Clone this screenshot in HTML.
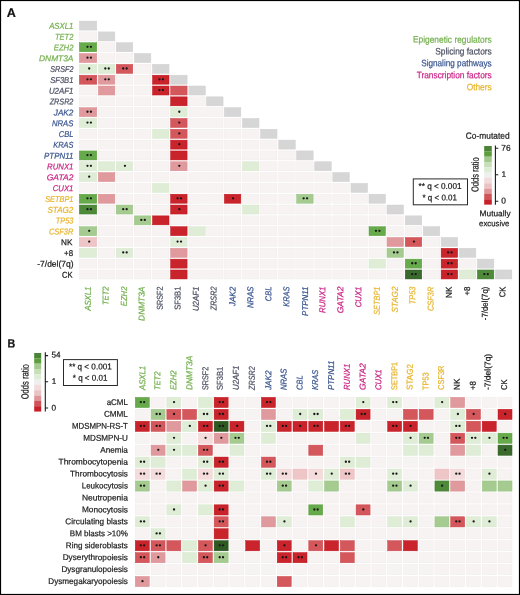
<!DOCTYPE html>
<html><head><meta charset="utf-8"><style>
html,body{margin:0;padding:0;background:#fff;}
svg{display:block;will-change:transform;font-family:"Liberation Sans",sans-serif;}
</style></head><body>
<svg width="520" height="595" viewBox="0 0 520 595">
<rect x="0" y="0" width="520" height="595" fill="#fff"/>
<g shape-rendering="auto">
<rect x="79.35" y="21.1" width="17.4" height="9" fill="#d6d6d6" stroke="#d0d0d0" stroke-width="0.5"/>
<rect x="79.35" y="31.92" width="17.4" height="9" fill="#f7f3f2" stroke="#f1ebea" stroke-width="0.5"/>
<rect x="98.35" y="31.92" width="16.5" height="9" fill="#d6d6d6" stroke="#d0d0d0" stroke-width="0.5"/>
<rect x="79.35" y="42.74" width="17.4" height="9" fill="#67aa4b" stroke="#5a9f3d" stroke-width="0.5"/>
<rect x="98.35" y="42.74" width="16.5" height="9" fill="#f7f3f2" stroke="#f1ebea" stroke-width="0.5"/>
<rect x="116.25" y="42.74" width="16.5" height="9" fill="#d6d6d6" stroke="#d0d0d0" stroke-width="0.5"/>
<rect x="79.35" y="53.56" width="17.4" height="9" fill="#e09a9d" stroke="#d98c90" stroke-width="0.5"/>
<rect x="98.35" y="53.56" width="16.5" height="9" fill="#f7f3f2" stroke="#f1ebea" stroke-width="0.5"/>
<rect x="116.25" y="53.56" width="16.5" height="9" fill="#f7f3f2" stroke="#f1ebea" stroke-width="0.5"/>
<rect x="134.35" y="53.56" width="16.5" height="9" fill="#d6d6d6" stroke="#d0d0d0" stroke-width="0.5"/>
<rect x="79.35" y="64.38" width="17.4" height="9" fill="#dfedd7" stroke="#d6e7cd" stroke-width="0.5"/>
<rect x="98.35" y="64.38" width="16.5" height="9" fill="#dfedd7" stroke="#d6e7cd" stroke-width="0.5"/>
<rect x="116.25" y="64.38" width="16.5" height="9" fill="#d4575c" stroke="#cc464c" stroke-width="0.5"/>
<rect x="134.35" y="64.38" width="16.5" height="9" fill="#f7f3f2" stroke="#f1ebea" stroke-width="0.5"/>
<rect x="152.5" y="64.38" width="16.5" height="9" fill="#d6d6d6" stroke="#d0d0d0" stroke-width="0.5"/>
<rect x="79.35" y="75.2" width="17.4" height="9" fill="#d4575c" stroke="#cc464c" stroke-width="0.5"/>
<rect x="98.35" y="75.2" width="16.5" height="9" fill="#e09a9d" stroke="#d98c90" stroke-width="0.5"/>
<rect x="116.25" y="75.2" width="16.5" height="9" fill="#f7f3f2" stroke="#f1ebea" stroke-width="0.5"/>
<rect x="134.35" y="75.2" width="16.5" height="9" fill="#f7f3f2" stroke="#f1ebea" stroke-width="0.5"/>
<rect x="152.5" y="75.2" width="16.5" height="9" fill="#c9232b" stroke="#c0141d" stroke-width="0.5"/>
<rect x="170.6" y="75.2" width="16.5" height="9" fill="#d6d6d6" stroke="#d0d0d0" stroke-width="0.5"/>
<rect x="79.35" y="86.02" width="17.4" height="9" fill="#f7f3f2" stroke="#f1ebea" stroke-width="0.5"/>
<rect x="98.35" y="86.02" width="16.5" height="9" fill="#e09a9d" stroke="#d98c90" stroke-width="0.5"/>
<rect x="116.25" y="86.02" width="16.5" height="9" fill="#f7f3f2" stroke="#f1ebea" stroke-width="0.5"/>
<rect x="134.35" y="86.02" width="16.5" height="9" fill="#f7f3f2" stroke="#f1ebea" stroke-width="0.5"/>
<rect x="152.5" y="86.02" width="16.5" height="9" fill="#c9232b" stroke="#c0141d" stroke-width="0.5"/>
<rect x="170.6" y="86.02" width="16.5" height="9" fill="#d4575c" stroke="#cc464c" stroke-width="0.5"/>
<rect x="188.85" y="86.02" width="16.5" height="9" fill="#d6d6d6" stroke="#d0d0d0" stroke-width="0.5"/>
<rect x="79.35" y="96.84" width="17.4" height="9" fill="#f7f3f2" stroke="#f1ebea" stroke-width="0.5"/>
<rect x="98.35" y="96.84" width="16.5" height="9" fill="#f7f3f2" stroke="#f1ebea" stroke-width="0.5"/>
<rect x="116.25" y="96.84" width="16.5" height="9" fill="#f7f3f2" stroke="#f1ebea" stroke-width="0.5"/>
<rect x="134.35" y="96.84" width="16.5" height="9" fill="#f7f3f2" stroke="#f1ebea" stroke-width="0.5"/>
<rect x="152.5" y="96.84" width="16.5" height="9" fill="#f7f3f2" stroke="#f1ebea" stroke-width="0.5"/>
<rect x="170.6" y="96.84" width="16.5" height="9" fill="#c9232b" stroke="#c0141d" stroke-width="0.5"/>
<rect x="188.85" y="96.84" width="16.5" height="9" fill="#f7f3f2" stroke="#f1ebea" stroke-width="0.5"/>
<rect x="206.55" y="96.84" width="16.5" height="9" fill="#d6d6d6" stroke="#d0d0d0" stroke-width="0.5"/>
<rect x="79.35" y="107.66" width="17.4" height="9" fill="#e09a9d" stroke="#d98c90" stroke-width="0.5"/>
<rect x="98.35" y="107.66" width="16.5" height="9" fill="#f7f3f2" stroke="#f1ebea" stroke-width="0.5"/>
<rect x="116.25" y="107.66" width="16.5" height="9" fill="#f7f3f2" stroke="#f1ebea" stroke-width="0.5"/>
<rect x="134.35" y="107.66" width="16.5" height="9" fill="#f7f3f2" stroke="#f1ebea" stroke-width="0.5"/>
<rect x="152.5" y="107.66" width="16.5" height="9" fill="#f7f3f2" stroke="#f1ebea" stroke-width="0.5"/>
<rect x="170.6" y="107.66" width="16.5" height="9" fill="#dfedd7" stroke="#d6e7cd" stroke-width="0.5"/>
<rect x="188.85" y="107.66" width="16.5" height="9" fill="#f7f3f2" stroke="#f1ebea" stroke-width="0.5"/>
<rect x="206.55" y="107.66" width="16.5" height="9" fill="#f7f3f2" stroke="#f1ebea" stroke-width="0.5"/>
<rect x="224.35" y="107.66" width="16.5" height="9" fill="#d6d6d6" stroke="#d0d0d0" stroke-width="0.5"/>
<rect x="79.35" y="118.48" width="17.4" height="9" fill="#dfedd7" stroke="#d6e7cd" stroke-width="0.5"/>
<rect x="98.35" y="118.48" width="16.5" height="9" fill="#f7f3f2" stroke="#f1ebea" stroke-width="0.5"/>
<rect x="116.25" y="118.48" width="16.5" height="9" fill="#f7f3f2" stroke="#f1ebea" stroke-width="0.5"/>
<rect x="134.35" y="118.48" width="16.5" height="9" fill="#f7f3f2" stroke="#f1ebea" stroke-width="0.5"/>
<rect x="152.5" y="118.48" width="16.5" height="9" fill="#f7f3f2" stroke="#f1ebea" stroke-width="0.5"/>
<rect x="170.6" y="118.48" width="16.5" height="9" fill="#d4575c" stroke="#cc464c" stroke-width="0.5"/>
<rect x="188.85" y="118.48" width="16.5" height="9" fill="#f7f3f2" stroke="#f1ebea" stroke-width="0.5"/>
<rect x="206.55" y="118.48" width="16.5" height="9" fill="#f7f3f2" stroke="#f1ebea" stroke-width="0.5"/>
<rect x="224.35" y="118.48" width="16.5" height="9" fill="#f7f3f2" stroke="#f1ebea" stroke-width="0.5"/>
<rect x="242.5" y="118.48" width="16.5" height="9" fill="#d6d6d6" stroke="#d0d0d0" stroke-width="0.5"/>
<rect x="79.35" y="129.3" width="17.4" height="9" fill="#f7f3f2" stroke="#f1ebea" stroke-width="0.5"/>
<rect x="98.35" y="129.3" width="16.5" height="9" fill="#f7f3f2" stroke="#f1ebea" stroke-width="0.5"/>
<rect x="116.25" y="129.3" width="16.5" height="9" fill="#f7f3f2" stroke="#f1ebea" stroke-width="0.5"/>
<rect x="134.35" y="129.3" width="16.5" height="9" fill="#f7f3f2" stroke="#f1ebea" stroke-width="0.5"/>
<rect x="152.5" y="129.3" width="16.5" height="9" fill="#dfedd7" stroke="#d6e7cd" stroke-width="0.5"/>
<rect x="170.6" y="129.3" width="16.5" height="9" fill="#d4575c" stroke="#cc464c" stroke-width="0.5"/>
<rect x="188.85" y="129.3" width="16.5" height="9" fill="#f7f3f2" stroke="#f1ebea" stroke-width="0.5"/>
<rect x="206.55" y="129.3" width="16.5" height="9" fill="#f7f3f2" stroke="#f1ebea" stroke-width="0.5"/>
<rect x="224.35" y="129.3" width="16.5" height="9" fill="#f7f3f2" stroke="#f1ebea" stroke-width="0.5"/>
<rect x="242.5" y="129.3" width="16.5" height="9" fill="#f7f3f2" stroke="#f1ebea" stroke-width="0.5"/>
<rect x="260.5" y="129.3" width="16.5" height="9" fill="#d6d6d6" stroke="#d0d0d0" stroke-width="0.5"/>
<rect x="79.35" y="140.12" width="17.4" height="9" fill="#f7f3f2" stroke="#f1ebea" stroke-width="0.5"/>
<rect x="98.35" y="140.12" width="16.5" height="9" fill="#f7f3f2" stroke="#f1ebea" stroke-width="0.5"/>
<rect x="116.25" y="140.12" width="16.5" height="9" fill="#f7f3f2" stroke="#f1ebea" stroke-width="0.5"/>
<rect x="134.35" y="140.12" width="16.5" height="9" fill="#f7f3f2" stroke="#f1ebea" stroke-width="0.5"/>
<rect x="152.5" y="140.12" width="16.5" height="9" fill="#f7f3f2" stroke="#f1ebea" stroke-width="0.5"/>
<rect x="170.6" y="140.12" width="16.5" height="9" fill="#c9232b" stroke="#c0141d" stroke-width="0.5"/>
<rect x="188.85" y="140.12" width="16.5" height="9" fill="#f7f3f2" stroke="#f1ebea" stroke-width="0.5"/>
<rect x="206.55" y="140.12" width="16.5" height="9" fill="#f7f3f2" stroke="#f1ebea" stroke-width="0.5"/>
<rect x="224.35" y="140.12" width="16.5" height="9" fill="#f7f3f2" stroke="#f1ebea" stroke-width="0.5"/>
<rect x="242.5" y="140.12" width="16.5" height="9" fill="#f7f3f2" stroke="#f1ebea" stroke-width="0.5"/>
<rect x="260.5" y="140.12" width="16.5" height="9" fill="#f7f3f2" stroke="#f1ebea" stroke-width="0.5"/>
<rect x="278.75" y="140.12" width="16.5" height="9" fill="#d6d6d6" stroke="#d0d0d0" stroke-width="0.5"/>
<rect x="79.35" y="150.94" width="17.4" height="9" fill="#67aa4b" stroke="#5a9f3d" stroke-width="0.5"/>
<rect x="98.35" y="150.94" width="16.5" height="9" fill="#f7f3f2" stroke="#f1ebea" stroke-width="0.5"/>
<rect x="116.25" y="150.94" width="16.5" height="9" fill="#f7f3f2" stroke="#f1ebea" stroke-width="0.5"/>
<rect x="134.35" y="150.94" width="16.5" height="9" fill="#f7f3f2" stroke="#f1ebea" stroke-width="0.5"/>
<rect x="152.5" y="150.94" width="16.5" height="9" fill="#f7f3f2" stroke="#f1ebea" stroke-width="0.5"/>
<rect x="170.6" y="150.94" width="16.5" height="9" fill="#c9232b" stroke="#c0141d" stroke-width="0.5"/>
<rect x="188.85" y="150.94" width="16.5" height="9" fill="#f7f3f2" stroke="#f1ebea" stroke-width="0.5"/>
<rect x="206.55" y="150.94" width="16.5" height="9" fill="#f7f3f2" stroke="#f1ebea" stroke-width="0.5"/>
<rect x="224.35" y="150.94" width="16.5" height="9" fill="#f7f3f2" stroke="#f1ebea" stroke-width="0.5"/>
<rect x="242.5" y="150.94" width="16.5" height="9" fill="#f7f3f2" stroke="#f1ebea" stroke-width="0.5"/>
<rect x="260.5" y="150.94" width="16.5" height="9" fill="#f7f3f2" stroke="#f1ebea" stroke-width="0.5"/>
<rect x="278.75" y="150.94" width="16.5" height="9" fill="#f7f3f2" stroke="#f1ebea" stroke-width="0.5"/>
<rect x="296.65" y="150.94" width="16.5" height="9" fill="#d6d6d6" stroke="#d0d0d0" stroke-width="0.5"/>
<rect x="79.35" y="161.76" width="17.4" height="9" fill="#dfedd7" stroke="#d6e7cd" stroke-width="0.5"/>
<rect x="98.35" y="161.76" width="16.5" height="9" fill="#dfedd7" stroke="#d6e7cd" stroke-width="0.5"/>
<rect x="116.25" y="161.76" width="16.5" height="9" fill="#dfedd7" stroke="#d6e7cd" stroke-width="0.5"/>
<rect x="134.35" y="161.76" width="16.5" height="9" fill="#f7f3f2" stroke="#f1ebea" stroke-width="0.5"/>
<rect x="152.5" y="161.76" width="16.5" height="9" fill="#f7f3f2" stroke="#f1ebea" stroke-width="0.5"/>
<rect x="170.6" y="161.76" width="16.5" height="9" fill="#e09a9d" stroke="#d98c90" stroke-width="0.5"/>
<rect x="188.85" y="161.76" width="16.5" height="9" fill="#f7f3f2" stroke="#f1ebea" stroke-width="0.5"/>
<rect x="206.55" y="161.76" width="16.5" height="9" fill="#f7f3f2" stroke="#f1ebea" stroke-width="0.5"/>
<rect x="224.35" y="161.76" width="16.5" height="9" fill="#f7f3f2" stroke="#f1ebea" stroke-width="0.5"/>
<rect x="242.5" y="161.76" width="16.5" height="9" fill="#dfedd7" stroke="#d6e7cd" stroke-width="0.5"/>
<rect x="260.5" y="161.76" width="16.5" height="9" fill="#f7f3f2" stroke="#f1ebea" stroke-width="0.5"/>
<rect x="278.75" y="161.76" width="16.5" height="9" fill="#f7f3f2" stroke="#f1ebea" stroke-width="0.5"/>
<rect x="296.65" y="161.76" width="16.5" height="9" fill="#f7f3f2" stroke="#f1ebea" stroke-width="0.5"/>
<rect x="314.75" y="161.76" width="16.5" height="9" fill="#d6d6d6" stroke="#d0d0d0" stroke-width="0.5"/>
<rect x="79.35" y="172.58" width="17.4" height="9" fill="#dfedd7" stroke="#d6e7cd" stroke-width="0.5"/>
<rect x="98.35" y="172.58" width="16.5" height="9" fill="#e09a9d" stroke="#d98c90" stroke-width="0.5"/>
<rect x="116.25" y="172.58" width="16.5" height="9" fill="#f7f3f2" stroke="#f1ebea" stroke-width="0.5"/>
<rect x="134.35" y="172.58" width="16.5" height="9" fill="#f7f3f2" stroke="#f1ebea" stroke-width="0.5"/>
<rect x="152.5" y="172.58" width="16.5" height="9" fill="#f7f3f2" stroke="#f1ebea" stroke-width="0.5"/>
<rect x="170.6" y="172.58" width="16.5" height="9" fill="#f7f3f2" stroke="#f1ebea" stroke-width="0.5"/>
<rect x="188.85" y="172.58" width="16.5" height="9" fill="#f7f3f2" stroke="#f1ebea" stroke-width="0.5"/>
<rect x="206.55" y="172.58" width="16.5" height="9" fill="#f7f3f2" stroke="#f1ebea" stroke-width="0.5"/>
<rect x="224.35" y="172.58" width="16.5" height="9" fill="#f7f3f2" stroke="#f1ebea" stroke-width="0.5"/>
<rect x="242.5" y="172.58" width="16.5" height="9" fill="#f7f3f2" stroke="#f1ebea" stroke-width="0.5"/>
<rect x="260.5" y="172.58" width="16.5" height="9" fill="#f7f3f2" stroke="#f1ebea" stroke-width="0.5"/>
<rect x="278.75" y="172.58" width="16.5" height="9" fill="#f7f3f2" stroke="#f1ebea" stroke-width="0.5"/>
<rect x="296.65" y="172.58" width="16.5" height="9" fill="#f7f3f2" stroke="#f1ebea" stroke-width="0.5"/>
<rect x="314.75" y="172.58" width="16.5" height="9" fill="#f7f3f2" stroke="#f1ebea" stroke-width="0.5"/>
<rect x="332.85" y="172.58" width="16.5" height="9" fill="#d6d6d6" stroke="#d0d0d0" stroke-width="0.5"/>
<rect x="79.35" y="183.4" width="17.4" height="9" fill="#f7f3f2" stroke="#f1ebea" stroke-width="0.5"/>
<rect x="98.35" y="183.4" width="16.5" height="9" fill="#f7f3f2" stroke="#f1ebea" stroke-width="0.5"/>
<rect x="116.25" y="183.4" width="16.5" height="9" fill="#f7f3f2" stroke="#f1ebea" stroke-width="0.5"/>
<rect x="134.35" y="183.4" width="16.5" height="9" fill="#f7f3f2" stroke="#f1ebea" stroke-width="0.5"/>
<rect x="152.5" y="183.4" width="16.5" height="9" fill="#dfedd7" stroke="#d6e7cd" stroke-width="0.5"/>
<rect x="170.6" y="183.4" width="16.5" height="9" fill="#f7f3f2" stroke="#f1ebea" stroke-width="0.5"/>
<rect x="188.85" y="183.4" width="16.5" height="9" fill="#f7f3f2" stroke="#f1ebea" stroke-width="0.5"/>
<rect x="206.55" y="183.4" width="16.5" height="9" fill="#f7f3f2" stroke="#f1ebea" stroke-width="0.5"/>
<rect x="224.35" y="183.4" width="16.5" height="9" fill="#f7f3f2" stroke="#f1ebea" stroke-width="0.5"/>
<rect x="242.5" y="183.4" width="16.5" height="9" fill="#f7f3f2" stroke="#f1ebea" stroke-width="0.5"/>
<rect x="260.5" y="183.4" width="16.5" height="9" fill="#f7f3f2" stroke="#f1ebea" stroke-width="0.5"/>
<rect x="278.75" y="183.4" width="16.5" height="9" fill="#f7f3f2" stroke="#f1ebea" stroke-width="0.5"/>
<rect x="296.65" y="183.4" width="16.5" height="9" fill="#f7f3f2" stroke="#f1ebea" stroke-width="0.5"/>
<rect x="314.75" y="183.4" width="16.5" height="9" fill="#f7f3f2" stroke="#f1ebea" stroke-width="0.5"/>
<rect x="332.85" y="183.4" width="16.5" height="9" fill="#f7f3f2" stroke="#f1ebea" stroke-width="0.5"/>
<rect x="351" y="183.4" width="16.5" height="9" fill="#d6d6d6" stroke="#d0d0d0" stroke-width="0.5"/>
<rect x="79.35" y="194.22" width="17.4" height="9" fill="#67aa4b" stroke="#5a9f3d" stroke-width="0.5"/>
<rect x="98.35" y="194.22" width="16.5" height="9" fill="#e09a9d" stroke="#d98c90" stroke-width="0.5"/>
<rect x="116.25" y="194.22" width="16.5" height="9" fill="#f7f3f2" stroke="#f1ebea" stroke-width="0.5"/>
<rect x="134.35" y="194.22" width="16.5" height="9" fill="#f7f3f2" stroke="#f1ebea" stroke-width="0.5"/>
<rect x="152.5" y="194.22" width="16.5" height="9" fill="#f7f3f2" stroke="#f1ebea" stroke-width="0.5"/>
<rect x="170.6" y="194.22" width="16.5" height="9" fill="#c9232b" stroke="#c0141d" stroke-width="0.5"/>
<rect x="188.85" y="194.22" width="16.5" height="9" fill="#f7f3f2" stroke="#f1ebea" stroke-width="0.5"/>
<rect x="206.55" y="194.22" width="16.5" height="9" fill="#f7f3f2" stroke="#f1ebea" stroke-width="0.5"/>
<rect x="224.35" y="194.22" width="16.5" height="9" fill="#c9232b" stroke="#c0141d" stroke-width="0.5"/>
<rect x="242.5" y="194.22" width="16.5" height="9" fill="#f7f3f2" stroke="#f1ebea" stroke-width="0.5"/>
<rect x="260.5" y="194.22" width="16.5" height="9" fill="#f7f3f2" stroke="#f1ebea" stroke-width="0.5"/>
<rect x="278.75" y="194.22" width="16.5" height="9" fill="#f7f3f2" stroke="#f1ebea" stroke-width="0.5"/>
<rect x="296.65" y="194.22" width="16.5" height="9" fill="#a5cb90" stroke="#97c281" stroke-width="0.5"/>
<rect x="314.75" y="194.22" width="16.5" height="9" fill="#f7f3f2" stroke="#f1ebea" stroke-width="0.5"/>
<rect x="332.85" y="194.22" width="16.5" height="9" fill="#f7f3f2" stroke="#f1ebea" stroke-width="0.5"/>
<rect x="351" y="194.22" width="16.5" height="9" fill="#f7f3f2" stroke="#f1ebea" stroke-width="0.5"/>
<rect x="369" y="194.22" width="16.5" height="9" fill="#d6d6d6" stroke="#d0d0d0" stroke-width="0.5"/>
<rect x="79.35" y="205.04" width="17.4" height="9" fill="#4e8a3a" stroke="#427d2e" stroke-width="0.5"/>
<rect x="98.35" y="205.04" width="16.5" height="9" fill="#f7f3f2" stroke="#f1ebea" stroke-width="0.5"/>
<rect x="116.25" y="205.04" width="16.5" height="9" fill="#a5cb90" stroke="#97c281" stroke-width="0.5"/>
<rect x="134.35" y="205.04" width="16.5" height="9" fill="#f7f3f2" stroke="#f1ebea" stroke-width="0.5"/>
<rect x="152.5" y="205.04" width="16.5" height="9" fill="#f7f3f2" stroke="#f1ebea" stroke-width="0.5"/>
<rect x="170.6" y="205.04" width="16.5" height="9" fill="#c9232b" stroke="#c0141d" stroke-width="0.5"/>
<rect x="188.85" y="205.04" width="16.5" height="9" fill="#f7f3f2" stroke="#f1ebea" stroke-width="0.5"/>
<rect x="206.55" y="205.04" width="16.5" height="9" fill="#f7f3f2" stroke="#f1ebea" stroke-width="0.5"/>
<rect x="224.35" y="205.04" width="16.5" height="9" fill="#f7f3f2" stroke="#f1ebea" stroke-width="0.5"/>
<rect x="242.5" y="205.04" width="16.5" height="9" fill="#dfedd7" stroke="#d6e7cd" stroke-width="0.5"/>
<rect x="260.5" y="205.04" width="16.5" height="9" fill="#f7f3f2" stroke="#f1ebea" stroke-width="0.5"/>
<rect x="278.75" y="205.04" width="16.5" height="9" fill="#f7f3f2" stroke="#f1ebea" stroke-width="0.5"/>
<rect x="296.65" y="205.04" width="16.5" height="9" fill="#f7f3f2" stroke="#f1ebea" stroke-width="0.5"/>
<rect x="314.75" y="205.04" width="16.5" height="9" fill="#f7f3f2" stroke="#f1ebea" stroke-width="0.5"/>
<rect x="332.85" y="205.04" width="16.5" height="9" fill="#f7f3f2" stroke="#f1ebea" stroke-width="0.5"/>
<rect x="351" y="205.04" width="16.5" height="9" fill="#f7f3f2" stroke="#f1ebea" stroke-width="0.5"/>
<rect x="369" y="205.04" width="16.5" height="9" fill="#f7f3f2" stroke="#f1ebea" stroke-width="0.5"/>
<rect x="387" y="205.04" width="16.5" height="9" fill="#d6d6d6" stroke="#d0d0d0" stroke-width="0.5"/>
<rect x="79.35" y="215.86" width="17.4" height="9" fill="#f7f3f2" stroke="#f1ebea" stroke-width="0.5"/>
<rect x="98.35" y="215.86" width="16.5" height="9" fill="#f7f3f2" stroke="#f1ebea" stroke-width="0.5"/>
<rect x="116.25" y="215.86" width="16.5" height="9" fill="#f7f3f2" stroke="#f1ebea" stroke-width="0.5"/>
<rect x="134.35" y="215.86" width="16.5" height="9" fill="#a5cb90" stroke="#97c281" stroke-width="0.5"/>
<rect x="152.5" y="215.86" width="16.5" height="9" fill="#c9232b" stroke="#c0141d" stroke-width="0.5"/>
<rect x="170.6" y="215.86" width="16.5" height="9" fill="#f7f3f2" stroke="#f1ebea" stroke-width="0.5"/>
<rect x="188.85" y="215.86" width="16.5" height="9" fill="#f7f3f2" stroke="#f1ebea" stroke-width="0.5"/>
<rect x="206.55" y="215.86" width="16.5" height="9" fill="#f7f3f2" stroke="#f1ebea" stroke-width="0.5"/>
<rect x="224.35" y="215.86" width="16.5" height="9" fill="#f7f3f2" stroke="#f1ebea" stroke-width="0.5"/>
<rect x="242.5" y="215.86" width="16.5" height="9" fill="#f7f3f2" stroke="#f1ebea" stroke-width="0.5"/>
<rect x="260.5" y="215.86" width="16.5" height="9" fill="#f7f3f2" stroke="#f1ebea" stroke-width="0.5"/>
<rect x="278.75" y="215.86" width="16.5" height="9" fill="#f7f3f2" stroke="#f1ebea" stroke-width="0.5"/>
<rect x="296.65" y="215.86" width="16.5" height="9" fill="#f7f3f2" stroke="#f1ebea" stroke-width="0.5"/>
<rect x="314.75" y="215.86" width="16.5" height="9" fill="#f7f3f2" stroke="#f1ebea" stroke-width="0.5"/>
<rect x="332.85" y="215.86" width="16.5" height="9" fill="#f7f3f2" stroke="#f1ebea" stroke-width="0.5"/>
<rect x="351" y="215.86" width="16.5" height="9" fill="#f7f3f2" stroke="#f1ebea" stroke-width="0.5"/>
<rect x="369" y="215.86" width="16.5" height="9" fill="#f7f3f2" stroke="#f1ebea" stroke-width="0.5"/>
<rect x="387" y="215.86" width="16.5" height="9" fill="#f7f3f2" stroke="#f1ebea" stroke-width="0.5"/>
<rect x="405.25" y="215.86" width="16.5" height="9" fill="#d6d6d6" stroke="#d0d0d0" stroke-width="0.5"/>
<rect x="79.35" y="226.68" width="17.4" height="9" fill="#a5cb90" stroke="#97c281" stroke-width="0.5"/>
<rect x="98.35" y="226.68" width="16.5" height="9" fill="#f7f3f2" stroke="#f1ebea" stroke-width="0.5"/>
<rect x="116.25" y="226.68" width="16.5" height="9" fill="#f7f3f2" stroke="#f1ebea" stroke-width="0.5"/>
<rect x="134.35" y="226.68" width="16.5" height="9" fill="#f7f3f2" stroke="#f1ebea" stroke-width="0.5"/>
<rect x="152.5" y="226.68" width="16.5" height="9" fill="#f7f3f2" stroke="#f1ebea" stroke-width="0.5"/>
<rect x="170.6" y="226.68" width="16.5" height="9" fill="#c9232b" stroke="#c0141d" stroke-width="0.5"/>
<rect x="188.85" y="226.68" width="16.5" height="9" fill="#dfedd7" stroke="#d6e7cd" stroke-width="0.5"/>
<rect x="206.55" y="226.68" width="16.5" height="9" fill="#f7f3f2" stroke="#f1ebea" stroke-width="0.5"/>
<rect x="224.35" y="226.68" width="16.5" height="9" fill="#f7f3f2" stroke="#f1ebea" stroke-width="0.5"/>
<rect x="242.5" y="226.68" width="16.5" height="9" fill="#f7f3f2" stroke="#f1ebea" stroke-width="0.5"/>
<rect x="260.5" y="226.68" width="16.5" height="9" fill="#f7f3f2" stroke="#f1ebea" stroke-width="0.5"/>
<rect x="278.75" y="226.68" width="16.5" height="9" fill="#f7f3f2" stroke="#f1ebea" stroke-width="0.5"/>
<rect x="296.65" y="226.68" width="16.5" height="9" fill="#f7f3f2" stroke="#f1ebea" stroke-width="0.5"/>
<rect x="314.75" y="226.68" width="16.5" height="9" fill="#f7f3f2" stroke="#f1ebea" stroke-width="0.5"/>
<rect x="332.85" y="226.68" width="16.5" height="9" fill="#f7f3f2" stroke="#f1ebea" stroke-width="0.5"/>
<rect x="351" y="226.68" width="16.5" height="9" fill="#f7f3f2" stroke="#f1ebea" stroke-width="0.5"/>
<rect x="369" y="226.68" width="16.5" height="9" fill="#67aa4b" stroke="#5a9f3d" stroke-width="0.5"/>
<rect x="387" y="226.68" width="16.5" height="9" fill="#f7f3f2" stroke="#f1ebea" stroke-width="0.5"/>
<rect x="405.25" y="226.68" width="16.5" height="9" fill="#f7f3f2" stroke="#f1ebea" stroke-width="0.5"/>
<rect x="423.25" y="226.68" width="16.5" height="9" fill="#d6d6d6" stroke="#d0d0d0" stroke-width="0.5"/>
<rect x="79.35" y="237.5" width="17.4" height="9" fill="#efc6c7" stroke="#e9b8b9" stroke-width="0.5"/>
<rect x="98.35" y="237.5" width="16.5" height="9" fill="#f7f3f2" stroke="#f1ebea" stroke-width="0.5"/>
<rect x="116.25" y="237.5" width="16.5" height="9" fill="#f7f3f2" stroke="#f1ebea" stroke-width="0.5"/>
<rect x="134.35" y="237.5" width="16.5" height="9" fill="#f7f3f2" stroke="#f1ebea" stroke-width="0.5"/>
<rect x="152.5" y="237.5" width="16.5" height="9" fill="#f7f3f2" stroke="#f1ebea" stroke-width="0.5"/>
<rect x="170.6" y="237.5" width="16.5" height="9" fill="#dfedd7" stroke="#d6e7cd" stroke-width="0.5"/>
<rect x="188.85" y="237.5" width="16.5" height="9" fill="#f7f3f2" stroke="#f1ebea" stroke-width="0.5"/>
<rect x="206.55" y="237.5" width="16.5" height="9" fill="#f7f3f2" stroke="#f1ebea" stroke-width="0.5"/>
<rect x="224.35" y="237.5" width="16.5" height="9" fill="#f7f3f2" stroke="#f1ebea" stroke-width="0.5"/>
<rect x="242.5" y="237.5" width="16.5" height="9" fill="#f7f3f2" stroke="#f1ebea" stroke-width="0.5"/>
<rect x="260.5" y="237.5" width="16.5" height="9" fill="#f7f3f2" stroke="#f1ebea" stroke-width="0.5"/>
<rect x="278.75" y="237.5" width="16.5" height="9" fill="#f7f3f2" stroke="#f1ebea" stroke-width="0.5"/>
<rect x="296.65" y="237.5" width="16.5" height="9" fill="#f7f3f2" stroke="#f1ebea" stroke-width="0.5"/>
<rect x="314.75" y="237.5" width="16.5" height="9" fill="#f7f3f2" stroke="#f1ebea" stroke-width="0.5"/>
<rect x="332.85" y="237.5" width="16.5" height="9" fill="#f7f3f2" stroke="#f1ebea" stroke-width="0.5"/>
<rect x="351" y="237.5" width="16.5" height="9" fill="#f7f3f2" stroke="#f1ebea" stroke-width="0.5"/>
<rect x="369" y="237.5" width="16.5" height="9" fill="#f7f3f2" stroke="#f1ebea" stroke-width="0.5"/>
<rect x="387" y="237.5" width="16.5" height="9" fill="#e09a9d" stroke="#d98c90" stroke-width="0.5"/>
<rect x="405.25" y="237.5" width="16.5" height="9" fill="#d4575c" stroke="#cc464c" stroke-width="0.5"/>
<rect x="423.25" y="237.5" width="16.5" height="9" fill="#f7f3f2" stroke="#f1ebea" stroke-width="0.5"/>
<rect x="441.15" y="237.5" width="16.5" height="9" fill="#d6d6d6" stroke="#d0d0d0" stroke-width="0.5"/>
<rect x="79.35" y="248.32" width="17.4" height="9" fill="#dfedd7" stroke="#d6e7cd" stroke-width="0.5"/>
<rect x="98.35" y="248.32" width="16.5" height="9" fill="#f7f3f2" stroke="#f1ebea" stroke-width="0.5"/>
<rect x="116.25" y="248.32" width="16.5" height="9" fill="#dfedd7" stroke="#d6e7cd" stroke-width="0.5"/>
<rect x="134.35" y="248.32" width="16.5" height="9" fill="#f7f3f2" stroke="#f1ebea" stroke-width="0.5"/>
<rect x="152.5" y="248.32" width="16.5" height="9" fill="#f7f3f2" stroke="#f1ebea" stroke-width="0.5"/>
<rect x="170.6" y="248.32" width="16.5" height="9" fill="#e09a9d" stroke="#d98c90" stroke-width="0.5"/>
<rect x="188.85" y="248.32" width="16.5" height="9" fill="#f7f3f2" stroke="#f1ebea" stroke-width="0.5"/>
<rect x="206.55" y="248.32" width="16.5" height="9" fill="#f7f3f2" stroke="#f1ebea" stroke-width="0.5"/>
<rect x="224.35" y="248.32" width="16.5" height="9" fill="#f7f3f2" stroke="#f1ebea" stroke-width="0.5"/>
<rect x="242.5" y="248.32" width="16.5" height="9" fill="#f7f3f2" stroke="#f1ebea" stroke-width="0.5"/>
<rect x="260.5" y="248.32" width="16.5" height="9" fill="#f7f3f2" stroke="#f1ebea" stroke-width="0.5"/>
<rect x="278.75" y="248.32" width="16.5" height="9" fill="#f7f3f2" stroke="#f1ebea" stroke-width="0.5"/>
<rect x="296.65" y="248.32" width="16.5" height="9" fill="#f7f3f2" stroke="#f1ebea" stroke-width="0.5"/>
<rect x="314.75" y="248.32" width="16.5" height="9" fill="#f7f3f2" stroke="#f1ebea" stroke-width="0.5"/>
<rect x="332.85" y="248.32" width="16.5" height="9" fill="#f7f3f2" stroke="#f1ebea" stroke-width="0.5"/>
<rect x="351" y="248.32" width="16.5" height="9" fill="#f7f3f2" stroke="#f1ebea" stroke-width="0.5"/>
<rect x="369" y="248.32" width="16.5" height="9" fill="#f7f3f2" stroke="#f1ebea" stroke-width="0.5"/>
<rect x="387" y="248.32" width="16.5" height="9" fill="#a5cb90" stroke="#97c281" stroke-width="0.5"/>
<rect x="405.25" y="248.32" width="16.5" height="9" fill="#f7f3f2" stroke="#f1ebea" stroke-width="0.5"/>
<rect x="423.25" y="248.32" width="16.5" height="9" fill="#f7f3f2" stroke="#f1ebea" stroke-width="0.5"/>
<rect x="441.15" y="248.32" width="16.5" height="9" fill="#c9232b" stroke="#c0141d" stroke-width="0.5"/>
<rect x="459.35" y="248.32" width="16.5" height="9" fill="#d6d6d6" stroke="#d0d0d0" stroke-width="0.5"/>
<rect x="79.35" y="259.14" width="17.4" height="9" fill="#f7f3f2" stroke="#f1ebea" stroke-width="0.5"/>
<rect x="98.35" y="259.14" width="16.5" height="9" fill="#f7f3f2" stroke="#f1ebea" stroke-width="0.5"/>
<rect x="116.25" y="259.14" width="16.5" height="9" fill="#f7f3f2" stroke="#f1ebea" stroke-width="0.5"/>
<rect x="134.35" y="259.14" width="16.5" height="9" fill="#f7f3f2" stroke="#f1ebea" stroke-width="0.5"/>
<rect x="152.5" y="259.14" width="16.5" height="9" fill="#f7f3f2" stroke="#f1ebea" stroke-width="0.5"/>
<rect x="170.6" y="259.14" width="16.5" height="9" fill="#c9232b" stroke="#c0141d" stroke-width="0.5"/>
<rect x="188.85" y="259.14" width="16.5" height="9" fill="#f7f3f2" stroke="#f1ebea" stroke-width="0.5"/>
<rect x="206.55" y="259.14" width="16.5" height="9" fill="#f7f3f2" stroke="#f1ebea" stroke-width="0.5"/>
<rect x="224.35" y="259.14" width="16.5" height="9" fill="#f7f3f2" stroke="#f1ebea" stroke-width="0.5"/>
<rect x="242.5" y="259.14" width="16.5" height="9" fill="#f7f3f2" stroke="#f1ebea" stroke-width="0.5"/>
<rect x="260.5" y="259.14" width="16.5" height="9" fill="#f7f3f2" stroke="#f1ebea" stroke-width="0.5"/>
<rect x="278.75" y="259.14" width="16.5" height="9" fill="#f7f3f2" stroke="#f1ebea" stroke-width="0.5"/>
<rect x="296.65" y="259.14" width="16.5" height="9" fill="#f7f3f2" stroke="#f1ebea" stroke-width="0.5"/>
<rect x="314.75" y="259.14" width="16.5" height="9" fill="#f7f3f2" stroke="#f1ebea" stroke-width="0.5"/>
<rect x="332.85" y="259.14" width="16.5" height="9" fill="#f7f3f2" stroke="#f1ebea" stroke-width="0.5"/>
<rect x="351" y="259.14" width="16.5" height="9" fill="#f7f3f2" stroke="#f1ebea" stroke-width="0.5"/>
<rect x="369" y="259.14" width="16.5" height="9" fill="#dfedd7" stroke="#d6e7cd" stroke-width="0.5"/>
<rect x="387" y="259.14" width="16.5" height="9" fill="#f7f3f2" stroke="#f1ebea" stroke-width="0.5"/>
<rect x="405.25" y="259.14" width="16.5" height="9" fill="#67aa4b" stroke="#5a9f3d" stroke-width="0.5"/>
<rect x="423.25" y="259.14" width="16.5" height="9" fill="#f7f3f2" stroke="#f1ebea" stroke-width="0.5"/>
<rect x="441.15" y="259.14" width="16.5" height="9" fill="#c9232b" stroke="#c0141d" stroke-width="0.5"/>
<rect x="459.35" y="259.14" width="16.5" height="9" fill="#f7f3f2" stroke="#f1ebea" stroke-width="0.5"/>
<rect x="477.35" y="259.14" width="16.5" height="9" fill="#d6d6d6" stroke="#d0d0d0" stroke-width="0.5"/>
<rect x="79.35" y="269.96" width="17.4" height="9" fill="#f7f3f2" stroke="#f1ebea" stroke-width="0.5"/>
<rect x="98.35" y="269.96" width="16.5" height="9" fill="#f7f3f2" stroke="#f1ebea" stroke-width="0.5"/>
<rect x="116.25" y="269.96" width="16.5" height="9" fill="#f7f3f2" stroke="#f1ebea" stroke-width="0.5"/>
<rect x="134.35" y="269.96" width="16.5" height="9" fill="#f7f3f2" stroke="#f1ebea" stroke-width="0.5"/>
<rect x="152.5" y="269.96" width="16.5" height="9" fill="#f7f3f2" stroke="#f1ebea" stroke-width="0.5"/>
<rect x="170.6" y="269.96" width="16.5" height="9" fill="#c9232b" stroke="#c0141d" stroke-width="0.5"/>
<rect x="188.85" y="269.96" width="16.5" height="9" fill="#f7f3f2" stroke="#f1ebea" stroke-width="0.5"/>
<rect x="206.55" y="269.96" width="16.5" height="9" fill="#f7f3f2" stroke="#f1ebea" stroke-width="0.5"/>
<rect x="224.35" y="269.96" width="16.5" height="9" fill="#f7f3f2" stroke="#f1ebea" stroke-width="0.5"/>
<rect x="242.5" y="269.96" width="16.5" height="9" fill="#f7f3f2" stroke="#f1ebea" stroke-width="0.5"/>
<rect x="260.5" y="269.96" width="16.5" height="9" fill="#f7f3f2" stroke="#f1ebea" stroke-width="0.5"/>
<rect x="278.75" y="269.96" width="16.5" height="9" fill="#f7f3f2" stroke="#f1ebea" stroke-width="0.5"/>
<rect x="296.65" y="269.96" width="16.5" height="9" fill="#f7f3f2" stroke="#f1ebea" stroke-width="0.5"/>
<rect x="314.75" y="269.96" width="16.5" height="9" fill="#f7f3f2" stroke="#f1ebea" stroke-width="0.5"/>
<rect x="332.85" y="269.96" width="16.5" height="9" fill="#f7f3f2" stroke="#f1ebea" stroke-width="0.5"/>
<rect x="351" y="269.96" width="16.5" height="9" fill="#f7f3f2" stroke="#f1ebea" stroke-width="0.5"/>
<rect x="369" y="269.96" width="16.5" height="9" fill="#f7f3f2" stroke="#f1ebea" stroke-width="0.5"/>
<rect x="387" y="269.96" width="16.5" height="9" fill="#f7f3f2" stroke="#f1ebea" stroke-width="0.5"/>
<rect x="405.25" y="269.96" width="16.5" height="9" fill="#3a6a2c" stroke="#2f5c22" stroke-width="0.5"/>
<rect x="423.25" y="269.96" width="16.5" height="9" fill="#f7f3f2" stroke="#f1ebea" stroke-width="0.5"/>
<rect x="441.15" y="269.96" width="16.5" height="9" fill="#c9232b" stroke="#c0141d" stroke-width="0.5"/>
<rect x="459.35" y="269.96" width="16.5" height="9" fill="#dfedd7" stroke="#d6e7cd" stroke-width="0.5"/>
<rect x="477.35" y="269.96" width="16.5" height="9" fill="#4e8a3a" stroke="#427d2e" stroke-width="0.5"/>
<rect x="495.35" y="269.96" width="16.5" height="9" fill="#d6d6d6" stroke="#d0d0d0" stroke-width="0.5"/>
<g fill="#161616">
<circle cx="87.48" cy="46.84" r="1.15"/><circle cx="90.92" cy="46.84" r="1.15"/>
</g>
<g fill="#161616">
<circle cx="87.48" cy="57.66" r="1.15"/><circle cx="90.92" cy="57.66" r="1.15"/>
</g>
<g fill="#161616">
<circle cx="89.2" cy="68.48" r="1.15"/>
</g>
<g fill="#161616">
<circle cx="105.33" cy="68.48" r="1.15"/><circle cx="108.77" cy="68.48" r="1.15"/>
</g>
<g fill="#161616">
<circle cx="123.23" cy="68.48" r="1.15"/><circle cx="126.67" cy="68.48" r="1.15"/>
</g>
<g fill="#161616">
<circle cx="87.48" cy="79.3" r="1.15"/><circle cx="90.92" cy="79.3" r="1.15"/>
</g>
<g fill="#161616">
<circle cx="105.33" cy="79.3" r="1.15"/><circle cx="108.77" cy="79.3" r="1.15"/>
</g>
<g fill="#161616">
<circle cx="159.47" cy="79.3" r="1.15"/><circle cx="162.92" cy="79.3" r="1.15"/>
</g>
<g fill="#161616">
<circle cx="159.47" cy="90.12" r="1.15"/><circle cx="162.92" cy="90.12" r="1.15"/>
</g>
<g fill="#161616">
<circle cx="87.48" cy="111.76" r="1.15"/><circle cx="90.92" cy="111.76" r="1.15"/>
</g>
<g fill="#161616">
<circle cx="179.3" cy="111.76" r="1.15"/>
</g>
<g fill="#161616">
<circle cx="87.48" cy="122.58" r="1.15"/><circle cx="90.92" cy="122.58" r="1.15"/>
</g>
<g fill="#161616">
<circle cx="179.3" cy="122.58" r="1.15"/>
</g>
<g fill="#161616">
<circle cx="179.3" cy="133.4" r="1.15"/>
</g>
<g fill="#161616">
<circle cx="179.3" cy="144.22" r="1.15"/>
</g>
<g fill="#161616">
<circle cx="87.48" cy="155.04" r="1.15"/><circle cx="90.92" cy="155.04" r="1.15"/>
</g>
<g fill="#161616">
<circle cx="87.48" cy="165.86" r="1.15"/><circle cx="90.92" cy="165.86" r="1.15"/>
</g>
<g fill="#161616">
<circle cx="124.95" cy="165.86" r="1.15"/>
</g>
<g fill="#161616">
<circle cx="179.3" cy="165.86" r="1.15"/>
</g>
<g fill="#161616">
<circle cx="89.2" cy="176.68" r="1.15"/>
</g>
<g fill="#161616">
<circle cx="87.48" cy="198.32" r="1.15"/><circle cx="90.92" cy="198.32" r="1.15"/>
</g>
<g fill="#161616">
<circle cx="177.57" cy="198.32" r="1.15"/><circle cx="181.02" cy="198.32" r="1.15"/>
</g>
<g fill="#161616">
<circle cx="233.05" cy="198.32" r="1.15"/>
</g>
<g fill="#161616">
<circle cx="303.62" cy="198.32" r="1.15"/><circle cx="307.07" cy="198.32" r="1.15"/>
</g>
<g fill="#161616">
<circle cx="87.48" cy="209.14" r="1.15"/><circle cx="90.92" cy="209.14" r="1.15"/>
</g>
<g fill="#161616">
<circle cx="123.23" cy="209.14" r="1.15"/><circle cx="126.67" cy="209.14" r="1.15"/>
</g>
<g fill="#161616">
<circle cx="179.3" cy="209.14" r="1.15"/>
</g>
<g fill="#161616">
<circle cx="141.32" cy="219.96" r="1.15"/><circle cx="144.77" cy="219.96" r="1.15"/>
</g>
<g fill="#161616">
<circle cx="89.2" cy="230.78" r="1.15"/>
</g>
<g fill="#161616">
<circle cx="375.97" cy="230.78" r="1.15"/><circle cx="379.43" cy="230.78" r="1.15"/>
</g>
<g fill="#161616">
<circle cx="89.2" cy="241.6" r="1.15"/>
</g>
<g fill="#161616">
<circle cx="177.57" cy="241.6" r="1.15"/><circle cx="181.02" cy="241.6" r="1.15"/>
</g>
<g fill="#161616">
<circle cx="413.95" cy="241.6" r="1.15"/>
</g>
<g fill="#161616">
<circle cx="123.23" cy="252.42" r="1.15"/><circle cx="126.67" cy="252.42" r="1.15"/>
</g>
<g fill="#161616">
<circle cx="393.97" cy="252.42" r="1.15"/><circle cx="397.43" cy="252.42" r="1.15"/>
</g>
<g fill="#161616">
<circle cx="448.12" cy="252.42" r="1.15"/><circle cx="451.57" cy="252.42" r="1.15"/>
</g>
<g fill="#161616">
<circle cx="412.22" cy="263.24" r="1.15"/><circle cx="415.68" cy="263.24" r="1.15"/>
</g>
<g fill="#161616">
<circle cx="448.12" cy="263.24" r="1.15"/><circle cx="451.57" cy="263.24" r="1.15"/>
</g>
<g fill="#161616">
<circle cx="412.22" cy="274.06" r="1.15"/><circle cx="415.68" cy="274.06" r="1.15"/>
</g>
<g fill="#161616">
<circle cx="448.12" cy="274.06" r="1.15"/><circle cx="451.57" cy="274.06" r="1.15"/>
</g>
<g fill="#161616">
<circle cx="484.32" cy="274.06" r="1.15"/><circle cx="487.78" cy="274.06" r="1.15"/>
</g>
<rect x="135.3" y="397.35" width="14" height="10.2" fill="#67aa4b" stroke="#5a9f3d" stroke-width="0.5"/>
<rect x="151.07" y="397.35" width="14" height="10.2" fill="#f7f3f2" stroke="#f1ebea" stroke-width="0.5"/>
<rect x="166.84" y="397.35" width="14" height="10.2" fill="#dfedd7" stroke="#d6e7cd" stroke-width="0.5"/>
<rect x="182.61" y="397.35" width="14" height="10.2" fill="#f7f3f2" stroke="#f1ebea" stroke-width="0.5"/>
<rect x="198.38" y="397.35" width="14" height="10.2" fill="#dfedd7" stroke="#d6e7cd" stroke-width="0.5"/>
<rect x="214.15" y="397.35" width="14" height="10.2" fill="#c9232b" stroke="#c0141d" stroke-width="0.5"/>
<rect x="229.92" y="397.35" width="14" height="10.2" fill="#f7f3f2" stroke="#f1ebea" stroke-width="0.5"/>
<rect x="245.69" y="397.35" width="14" height="10.2" fill="#f7f3f2" stroke="#f1ebea" stroke-width="0.5"/>
<rect x="261.46" y="397.35" width="14" height="10.2" fill="#c9232b" stroke="#c0141d" stroke-width="0.5"/>
<rect x="277.23" y="397.35" width="14" height="10.2" fill="#f7f3f2" stroke="#f1ebea" stroke-width="0.5"/>
<rect x="293" y="397.35" width="14" height="10.2" fill="#f7f3f2" stroke="#f1ebea" stroke-width="0.5"/>
<rect x="308.77" y="397.35" width="14" height="10.2" fill="#f7f3f2" stroke="#f1ebea" stroke-width="0.5"/>
<rect x="324.54" y="397.35" width="14" height="10.2" fill="#f7f3f2" stroke="#f1ebea" stroke-width="0.5"/>
<rect x="340.31" y="397.35" width="14" height="10.2" fill="#f7f3f2" stroke="#f1ebea" stroke-width="0.5"/>
<rect x="356.08" y="397.35" width="14" height="10.2" fill="#dfedd7" stroke="#d6e7cd" stroke-width="0.5"/>
<rect x="371.85" y="397.35" width="14" height="10.2" fill="#f7f3f2" stroke="#f1ebea" stroke-width="0.5"/>
<rect x="387.62" y="397.35" width="14" height="10.2" fill="#dfedd7" stroke="#d6e7cd" stroke-width="0.5"/>
<rect x="403.39" y="397.35" width="14" height="10.2" fill="#f7f3f2" stroke="#f1ebea" stroke-width="0.5"/>
<rect x="419.16" y="397.35" width="14" height="10.2" fill="#f7f3f2" stroke="#f1ebea" stroke-width="0.5"/>
<rect x="434.93" y="397.35" width="14" height="10.2" fill="#dfedd7" stroke="#d6e7cd" stroke-width="0.5"/>
<rect x="450.7" y="397.35" width="14" height="10.2" fill="#e09a9d" stroke="#d98c90" stroke-width="0.5"/>
<rect x="466.47" y="397.35" width="14" height="10.2" fill="#f7f3f2" stroke="#f1ebea" stroke-width="0.5"/>
<rect x="482.24" y="397.35" width="14" height="10.2" fill="#f7f3f2" stroke="#f1ebea" stroke-width="0.5"/>
<rect x="498.01" y="397.35" width="14" height="10.2" fill="#f7f3f2" stroke="#f1ebea" stroke-width="0.5"/>
<rect x="135.3" y="409.29" width="14" height="10.2" fill="#f7f3f2" stroke="#f1ebea" stroke-width="0.5"/>
<rect x="151.07" y="409.29" width="14" height="10.2" fill="#a5cb90" stroke="#97c281" stroke-width="0.5"/>
<rect x="166.84" y="409.29" width="14" height="10.2" fill="#d4575c" stroke="#cc464c" stroke-width="0.5"/>
<rect x="182.61" y="409.29" width="14" height="10.2" fill="#d4575c" stroke="#cc464c" stroke-width="0.5"/>
<rect x="198.38" y="409.29" width="14" height="10.2" fill="#dfedd7" stroke="#d6e7cd" stroke-width="0.5"/>
<rect x="214.15" y="409.29" width="14" height="10.2" fill="#c9232b" stroke="#c0141d" stroke-width="0.5"/>
<rect x="229.92" y="409.29" width="14" height="10.2" fill="#f7f3f2" stroke="#f1ebea" stroke-width="0.5"/>
<rect x="245.69" y="409.29" width="14" height="10.2" fill="#f7f3f2" stroke="#f1ebea" stroke-width="0.5"/>
<rect x="261.46" y="409.29" width="14" height="10.2" fill="#e09a9d" stroke="#d98c90" stroke-width="0.5"/>
<rect x="277.23" y="409.29" width="14" height="10.2" fill="#f7f3f2" stroke="#f1ebea" stroke-width="0.5"/>
<rect x="293" y="409.29" width="14" height="10.2" fill="#dfedd7" stroke="#d6e7cd" stroke-width="0.5"/>
<rect x="308.77" y="409.29" width="14" height="10.2" fill="#dfedd7" stroke="#d6e7cd" stroke-width="0.5"/>
<rect x="324.54" y="409.29" width="14" height="10.2" fill="#f7f3f2" stroke="#f1ebea" stroke-width="0.5"/>
<rect x="340.31" y="409.29" width="14" height="10.2" fill="#dfedd7" stroke="#d6e7cd" stroke-width="0.5"/>
<rect x="356.08" y="409.29" width="14" height="10.2" fill="#c9232b" stroke="#c0141d" stroke-width="0.5"/>
<rect x="371.85" y="409.29" width="14" height="10.2" fill="#f7f3f2" stroke="#f1ebea" stroke-width="0.5"/>
<rect x="387.62" y="409.29" width="14" height="10.2" fill="#f7f3f2" stroke="#f1ebea" stroke-width="0.5"/>
<rect x="403.39" y="409.29" width="14" height="10.2" fill="#d4575c" stroke="#cc464c" stroke-width="0.5"/>
<rect x="419.16" y="409.29" width="14" height="10.2" fill="#d4575c" stroke="#cc464c" stroke-width="0.5"/>
<rect x="434.93" y="409.29" width="14" height="10.2" fill="#f7f3f2" stroke="#f1ebea" stroke-width="0.5"/>
<rect x="450.7" y="409.29" width="14" height="10.2" fill="#dfedd7" stroke="#d6e7cd" stroke-width="0.5"/>
<rect x="466.47" y="409.29" width="14" height="10.2" fill="#d4575c" stroke="#cc464c" stroke-width="0.5"/>
<rect x="482.24" y="409.29" width="14" height="10.2" fill="#f7f3f2" stroke="#f1ebea" stroke-width="0.5"/>
<rect x="498.01" y="409.29" width="14" height="10.2" fill="#c9232b" stroke="#c0141d" stroke-width="0.5"/>
<rect x="135.3" y="421.23" width="14" height="10.2" fill="#c9232b" stroke="#c0141d" stroke-width="0.5"/>
<rect x="151.07" y="421.23" width="14" height="10.2" fill="#d4575c" stroke="#cc464c" stroke-width="0.5"/>
<rect x="166.84" y="421.23" width="14" height="10.2" fill="#e09a9d" stroke="#d98c90" stroke-width="0.5"/>
<rect x="182.61" y="421.23" width="14" height="10.2" fill="#dfedd7" stroke="#d6e7cd" stroke-width="0.5"/>
<rect x="198.38" y="421.23" width="14" height="10.2" fill="#c9232b" stroke="#c0141d" stroke-width="0.5"/>
<rect x="214.15" y="421.23" width="14" height="10.2" fill="#2e5a22" stroke="#234c18" stroke-width="0.5"/>
<rect x="229.92" y="421.23" width="14" height="10.2" fill="#c9232b" stroke="#c0141d" stroke-width="0.5"/>
<rect x="245.69" y="421.23" width="14" height="10.2" fill="#f7f3f2" stroke="#f1ebea" stroke-width="0.5"/>
<rect x="261.46" y="421.23" width="14" height="10.2" fill="#dfedd7" stroke="#d6e7cd" stroke-width="0.5"/>
<rect x="277.23" y="421.23" width="14" height="10.2" fill="#c9232b" stroke="#c0141d" stroke-width="0.5"/>
<rect x="293" y="421.23" width="14" height="10.2" fill="#c9232b" stroke="#c0141d" stroke-width="0.5"/>
<rect x="308.77" y="421.23" width="14" height="10.2" fill="#c9232b" stroke="#c0141d" stroke-width="0.5"/>
<rect x="324.54" y="421.23" width="14" height="10.2" fill="#c9232b" stroke="#c0141d" stroke-width="0.5"/>
<rect x="340.31" y="421.23" width="14" height="10.2" fill="#c9232b" stroke="#c0141d" stroke-width="0.5"/>
<rect x="356.08" y="421.23" width="14" height="10.2" fill="#f7f3f2" stroke="#f1ebea" stroke-width="0.5"/>
<rect x="371.85" y="421.23" width="14" height="10.2" fill="#f7f3f2" stroke="#f1ebea" stroke-width="0.5"/>
<rect x="387.62" y="421.23" width="14" height="10.2" fill="#c9232b" stroke="#c0141d" stroke-width="0.5"/>
<rect x="403.39" y="421.23" width="14" height="10.2" fill="#c9232b" stroke="#c0141d" stroke-width="0.5"/>
<rect x="419.16" y="421.23" width="14" height="10.2" fill="#f7f3f2" stroke="#f1ebea" stroke-width="0.5"/>
<rect x="434.93" y="421.23" width="14" height="10.2" fill="#f7f3f2" stroke="#f1ebea" stroke-width="0.5"/>
<rect x="450.7" y="421.23" width="14" height="10.2" fill="#dfedd7" stroke="#d6e7cd" stroke-width="0.5"/>
<rect x="466.47" y="421.23" width="14" height="10.2" fill="#d4575c" stroke="#cc464c" stroke-width="0.5"/>
<rect x="482.24" y="421.23" width="14" height="10.2" fill="#c9232b" stroke="#c0141d" stroke-width="0.5"/>
<rect x="498.01" y="421.23" width="14" height="10.2" fill="#f7f3f2" stroke="#f1ebea" stroke-width="0.5"/>
<rect x="135.3" y="433.17" width="14" height="10.2" fill="#f7f3f2" stroke="#f1ebea" stroke-width="0.5"/>
<rect x="151.07" y="433.17" width="14" height="10.2" fill="#f7f3f2" stroke="#f1ebea" stroke-width="0.5"/>
<rect x="166.84" y="433.17" width="14" height="10.2" fill="#dfedd7" stroke="#d6e7cd" stroke-width="0.5"/>
<rect x="182.61" y="433.17" width="14" height="10.2" fill="#f7f3f2" stroke="#f1ebea" stroke-width="0.5"/>
<rect x="198.38" y="433.17" width="14" height="10.2" fill="#f5dcdc" stroke="#f0d0d0" stroke-width="0.5"/>
<rect x="214.15" y="433.17" width="14" height="10.2" fill="#e09a9d" stroke="#d98c90" stroke-width="0.5"/>
<rect x="229.92" y="433.17" width="14" height="10.2" fill="#a5cb90" stroke="#97c281" stroke-width="0.5"/>
<rect x="245.69" y="433.17" width="14" height="10.2" fill="#f7f3f2" stroke="#f1ebea" stroke-width="0.5"/>
<rect x="261.46" y="433.17" width="14" height="10.2" fill="#dfedd7" stroke="#d6e7cd" stroke-width="0.5"/>
<rect x="277.23" y="433.17" width="14" height="10.2" fill="#f7f3f2" stroke="#f1ebea" stroke-width="0.5"/>
<rect x="293" y="433.17" width="14" height="10.2" fill="#f7f3f2" stroke="#f1ebea" stroke-width="0.5"/>
<rect x="308.77" y="433.17" width="14" height="10.2" fill="#f7f3f2" stroke="#f1ebea" stroke-width="0.5"/>
<rect x="324.54" y="433.17" width="14" height="10.2" fill="#f7f3f2" stroke="#f1ebea" stroke-width="0.5"/>
<rect x="340.31" y="433.17" width="14" height="10.2" fill="#f7f3f2" stroke="#f1ebea" stroke-width="0.5"/>
<rect x="356.08" y="433.17" width="14" height="10.2" fill="#dfedd7" stroke="#d6e7cd" stroke-width="0.5"/>
<rect x="371.85" y="433.17" width="14" height="10.2" fill="#f7f3f2" stroke="#f1ebea" stroke-width="0.5"/>
<rect x="387.62" y="433.17" width="14" height="10.2" fill="#f7f3f2" stroke="#f1ebea" stroke-width="0.5"/>
<rect x="403.39" y="433.17" width="14" height="10.2" fill="#dfedd7" stroke="#d6e7cd" stroke-width="0.5"/>
<rect x="419.16" y="433.17" width="14" height="10.2" fill="#a5cb90" stroke="#97c281" stroke-width="0.5"/>
<rect x="434.93" y="433.17" width="14" height="10.2" fill="#f7f3f2" stroke="#f1ebea" stroke-width="0.5"/>
<rect x="450.7" y="433.17" width="14" height="10.2" fill="#d4575c" stroke="#cc464c" stroke-width="0.5"/>
<rect x="466.47" y="433.17" width="14" height="10.2" fill="#dfedd7" stroke="#d6e7cd" stroke-width="0.5"/>
<rect x="482.24" y="433.17" width="14" height="10.2" fill="#dfedd7" stroke="#d6e7cd" stroke-width="0.5"/>
<rect x="498.01" y="433.17" width="14" height="10.2" fill="#67aa4b" stroke="#5a9f3d" stroke-width="0.5"/>
<rect x="135.3" y="445.11" width="14" height="10.2" fill="#f7f3f2" stroke="#f1ebea" stroke-width="0.5"/>
<rect x="151.07" y="445.11" width="14" height="10.2" fill="#e09a9d" stroke="#d98c90" stroke-width="0.5"/>
<rect x="166.84" y="445.11" width="14" height="10.2" fill="#dfedd7" stroke="#d6e7cd" stroke-width="0.5"/>
<rect x="182.61" y="445.11" width="14" height="10.2" fill="#dfedd7" stroke="#d6e7cd" stroke-width="0.5"/>
<rect x="198.38" y="445.11" width="14" height="10.2" fill="#d4575c" stroke="#cc464c" stroke-width="0.5"/>
<rect x="214.15" y="445.11" width="14" height="10.2" fill="#f7f3f2" stroke="#f1ebea" stroke-width="0.5"/>
<rect x="229.92" y="445.11" width="14" height="10.2" fill="#dfedd7" stroke="#d6e7cd" stroke-width="0.5"/>
<rect x="245.69" y="445.11" width="14" height="10.2" fill="#f7f3f2" stroke="#f1ebea" stroke-width="0.5"/>
<rect x="261.46" y="445.11" width="14" height="10.2" fill="#f7f3f2" stroke="#f1ebea" stroke-width="0.5"/>
<rect x="277.23" y="445.11" width="14" height="10.2" fill="#f7f3f2" stroke="#f1ebea" stroke-width="0.5"/>
<rect x="293" y="445.11" width="14" height="10.2" fill="#f7f3f2" stroke="#f1ebea" stroke-width="0.5"/>
<rect x="308.77" y="445.11" width="14" height="10.2" fill="#d4575c" stroke="#cc464c" stroke-width="0.5"/>
<rect x="324.54" y="445.11" width="14" height="10.2" fill="#f7f3f2" stroke="#f1ebea" stroke-width="0.5"/>
<rect x="340.31" y="445.11" width="14" height="10.2" fill="#f7f3f2" stroke="#f1ebea" stroke-width="0.5"/>
<rect x="356.08" y="445.11" width="14" height="10.2" fill="#f7f3f2" stroke="#f1ebea" stroke-width="0.5"/>
<rect x="371.85" y="445.11" width="14" height="10.2" fill="#f7f3f2" stroke="#f1ebea" stroke-width="0.5"/>
<rect x="387.62" y="445.11" width="14" height="10.2" fill="#f7f3f2" stroke="#f1ebea" stroke-width="0.5"/>
<rect x="403.39" y="445.11" width="14" height="10.2" fill="#dfedd7" stroke="#d6e7cd" stroke-width="0.5"/>
<rect x="419.16" y="445.11" width="14" height="10.2" fill="#dfedd7" stroke="#d6e7cd" stroke-width="0.5"/>
<rect x="434.93" y="445.11" width="14" height="10.2" fill="#f7f3f2" stroke="#f1ebea" stroke-width="0.5"/>
<rect x="450.7" y="445.11" width="14" height="10.2" fill="#e09a9d" stroke="#d98c90" stroke-width="0.5"/>
<rect x="466.47" y="445.11" width="14" height="10.2" fill="#dfedd7" stroke="#d6e7cd" stroke-width="0.5"/>
<rect x="482.24" y="445.11" width="14" height="10.2" fill="#f7f3f2" stroke="#f1ebea" stroke-width="0.5"/>
<rect x="498.01" y="445.11" width="14" height="10.2" fill="#3a6a2c" stroke="#2f5c22" stroke-width="0.5"/>
<rect x="135.3" y="457.05" width="14" height="10.2" fill="#dfedd7" stroke="#d6e7cd" stroke-width="0.5"/>
<rect x="151.07" y="457.05" width="14" height="10.2" fill="#dfedd7" stroke="#d6e7cd" stroke-width="0.5"/>
<rect x="166.84" y="457.05" width="14" height="10.2" fill="#f7f3f2" stroke="#f1ebea" stroke-width="0.5"/>
<rect x="182.61" y="457.05" width="14" height="10.2" fill="#f7f3f2" stroke="#f1ebea" stroke-width="0.5"/>
<rect x="198.38" y="457.05" width="14" height="10.2" fill="#dfedd7" stroke="#d6e7cd" stroke-width="0.5"/>
<rect x="214.15" y="457.05" width="14" height="10.2" fill="#c9232b" stroke="#c0141d" stroke-width="0.5"/>
<rect x="229.92" y="457.05" width="14" height="10.2" fill="#f7f3f2" stroke="#f1ebea" stroke-width="0.5"/>
<rect x="245.69" y="457.05" width="14" height="10.2" fill="#f7f3f2" stroke="#f1ebea" stroke-width="0.5"/>
<rect x="261.46" y="457.05" width="14" height="10.2" fill="#d4575c" stroke="#cc464c" stroke-width="0.5"/>
<rect x="277.23" y="457.05" width="14" height="10.2" fill="#f7f3f2" stroke="#f1ebea" stroke-width="0.5"/>
<rect x="293" y="457.05" width="14" height="10.2" fill="#f7f3f2" stroke="#f1ebea" stroke-width="0.5"/>
<rect x="308.77" y="457.05" width="14" height="10.2" fill="#f7f3f2" stroke="#f1ebea" stroke-width="0.5"/>
<rect x="324.54" y="457.05" width="14" height="10.2" fill="#f7f3f2" stroke="#f1ebea" stroke-width="0.5"/>
<rect x="340.31" y="457.05" width="14" height="10.2" fill="#dfedd7" stroke="#d6e7cd" stroke-width="0.5"/>
<rect x="356.08" y="457.05" width="14" height="10.2" fill="#dfedd7" stroke="#d6e7cd" stroke-width="0.5"/>
<rect x="371.85" y="457.05" width="14" height="10.2" fill="#f7f3f2" stroke="#f1ebea" stroke-width="0.5"/>
<rect x="387.62" y="457.05" width="14" height="10.2" fill="#f7f3f2" stroke="#f1ebea" stroke-width="0.5"/>
<rect x="403.39" y="457.05" width="14" height="10.2" fill="#f7f3f2" stroke="#f1ebea" stroke-width="0.5"/>
<rect x="419.16" y="457.05" width="14" height="10.2" fill="#f7f3f2" stroke="#f1ebea" stroke-width="0.5"/>
<rect x="434.93" y="457.05" width="14" height="10.2" fill="#f7f3f2" stroke="#f1ebea" stroke-width="0.5"/>
<rect x="450.7" y="457.05" width="14" height="10.2" fill="#f7f3f2" stroke="#f1ebea" stroke-width="0.5"/>
<rect x="466.47" y="457.05" width="14" height="10.2" fill="#f7f3f2" stroke="#f1ebea" stroke-width="0.5"/>
<rect x="482.24" y="457.05" width="14" height="10.2" fill="#f7f3f2" stroke="#f1ebea" stroke-width="0.5"/>
<rect x="498.01" y="457.05" width="14" height="10.2" fill="#f7f3f2" stroke="#f1ebea" stroke-width="0.5"/>
<rect x="135.3" y="468.99" width="14" height="10.2" fill="#f5dcdc" stroke="#f0d0d0" stroke-width="0.5"/>
<rect x="151.07" y="468.99" width="14" height="10.2" fill="#f5dcdc" stroke="#f0d0d0" stroke-width="0.5"/>
<rect x="166.84" y="468.99" width="14" height="10.2" fill="#f7f3f2" stroke="#f1ebea" stroke-width="0.5"/>
<rect x="182.61" y="468.99" width="14" height="10.2" fill="#dfedd7" stroke="#d6e7cd" stroke-width="0.5"/>
<rect x="198.38" y="468.99" width="14" height="10.2" fill="#f5dcdc" stroke="#f0d0d0" stroke-width="0.5"/>
<rect x="214.15" y="468.99" width="14" height="10.2" fill="#dfedd7" stroke="#d6e7cd" stroke-width="0.5"/>
<rect x="229.92" y="468.99" width="14" height="10.2" fill="#f7f3f2" stroke="#f1ebea" stroke-width="0.5"/>
<rect x="245.69" y="468.99" width="14" height="10.2" fill="#f7f3f2" stroke="#f1ebea" stroke-width="0.5"/>
<rect x="261.46" y="468.99" width="14" height="10.2" fill="#dfedd7" stroke="#d6e7cd" stroke-width="0.5"/>
<rect x="277.23" y="468.99" width="14" height="10.2" fill="#f5dcdc" stroke="#f0d0d0" stroke-width="0.5"/>
<rect x="293" y="468.99" width="14" height="10.2" fill="#efc6c7" stroke="#e9b8b9" stroke-width="0.5"/>
<rect x="308.77" y="468.99" width="14" height="10.2" fill="#f5dcdc" stroke="#f0d0d0" stroke-width="0.5"/>
<rect x="324.54" y="468.99" width="14" height="10.2" fill="#dfedd7" stroke="#d6e7cd" stroke-width="0.5"/>
<rect x="340.31" y="468.99" width="14" height="10.2" fill="#efc6c7" stroke="#e9b8b9" stroke-width="0.5"/>
<rect x="356.08" y="468.99" width="14" height="10.2" fill="#f7f3f2" stroke="#f1ebea" stroke-width="0.5"/>
<rect x="371.85" y="468.99" width="14" height="10.2" fill="#f7f3f2" stroke="#f1ebea" stroke-width="0.5"/>
<rect x="387.62" y="468.99" width="14" height="10.2" fill="#dfedd7" stroke="#d6e7cd" stroke-width="0.5"/>
<rect x="403.39" y="468.99" width="14" height="10.2" fill="#f7f3f2" stroke="#f1ebea" stroke-width="0.5"/>
<rect x="419.16" y="468.99" width="14" height="10.2" fill="#f7f3f2" stroke="#f1ebea" stroke-width="0.5"/>
<rect x="434.93" y="468.99" width="14" height="10.2" fill="#efc6c7" stroke="#e9b8b9" stroke-width="0.5"/>
<rect x="450.7" y="468.99" width="14" height="10.2" fill="#f5dcdc" stroke="#f0d0d0" stroke-width="0.5"/>
<rect x="466.47" y="468.99" width="14" height="10.2" fill="#f7f3f2" stroke="#f1ebea" stroke-width="0.5"/>
<rect x="482.24" y="468.99" width="14" height="10.2" fill="#dfedd7" stroke="#d6e7cd" stroke-width="0.5"/>
<rect x="498.01" y="468.99" width="14" height="10.2" fill="#f7f3f2" stroke="#f1ebea" stroke-width="0.5"/>
<rect x="135.3" y="480.93" width="14" height="10.2" fill="#a5cb90" stroke="#97c281" stroke-width="0.5"/>
<rect x="151.07" y="480.93" width="14" height="10.2" fill="#f7f3f2" stroke="#f1ebea" stroke-width="0.5"/>
<rect x="166.84" y="480.93" width="14" height="10.2" fill="#dfedd7" stroke="#d6e7cd" stroke-width="0.5"/>
<rect x="182.61" y="480.93" width="14" height="10.2" fill="#e09a9d" stroke="#d98c90" stroke-width="0.5"/>
<rect x="198.38" y="480.93" width="14" height="10.2" fill="#dfedd7" stroke="#d6e7cd" stroke-width="0.5"/>
<rect x="214.15" y="480.93" width="14" height="10.2" fill="#c9232b" stroke="#c0141d" stroke-width="0.5"/>
<rect x="229.92" y="480.93" width="14" height="10.2" fill="#dfedd7" stroke="#d6e7cd" stroke-width="0.5"/>
<rect x="245.69" y="480.93" width="14" height="10.2" fill="#f7f3f2" stroke="#f1ebea" stroke-width="0.5"/>
<rect x="261.46" y="480.93" width="14" height="10.2" fill="#f7f3f2" stroke="#f1ebea" stroke-width="0.5"/>
<rect x="277.23" y="480.93" width="14" height="10.2" fill="#a5cb90" stroke="#97c281" stroke-width="0.5"/>
<rect x="293" y="480.93" width="14" height="10.2" fill="#f7f3f2" stroke="#f1ebea" stroke-width="0.5"/>
<rect x="308.77" y="480.93" width="14" height="10.2" fill="#dfedd7" stroke="#d6e7cd" stroke-width="0.5"/>
<rect x="324.54" y="480.93" width="14" height="10.2" fill="#a5cb90" stroke="#97c281" stroke-width="0.5"/>
<rect x="340.31" y="480.93" width="14" height="10.2" fill="#f7f3f2" stroke="#f1ebea" stroke-width="0.5"/>
<rect x="356.08" y="480.93" width="14" height="10.2" fill="#f7f3f2" stroke="#f1ebea" stroke-width="0.5"/>
<rect x="371.85" y="480.93" width="14" height="10.2" fill="#f7f3f2" stroke="#f1ebea" stroke-width="0.5"/>
<rect x="387.62" y="480.93" width="14" height="10.2" fill="#a5cb90" stroke="#97c281" stroke-width="0.5"/>
<rect x="403.39" y="480.93" width="14" height="10.2" fill="#dfedd7" stroke="#d6e7cd" stroke-width="0.5"/>
<rect x="419.16" y="480.93" width="14" height="10.2" fill="#f7f3f2" stroke="#f1ebea" stroke-width="0.5"/>
<rect x="434.93" y="480.93" width="14" height="10.2" fill="#4e8a3a" stroke="#427d2e" stroke-width="0.5"/>
<rect x="450.7" y="480.93" width="14" height="10.2" fill="#e09a9d" stroke="#d98c90" stroke-width="0.5"/>
<rect x="466.47" y="480.93" width="14" height="10.2" fill="#f7f3f2" stroke="#f1ebea" stroke-width="0.5"/>
<rect x="482.24" y="480.93" width="14" height="10.2" fill="#a5cb90" stroke="#97c281" stroke-width="0.5"/>
<rect x="498.01" y="480.93" width="14" height="10.2" fill="#a5cb90" stroke="#97c281" stroke-width="0.5"/>
<rect x="135.3" y="492.87" width="14" height="10.2" fill="#f7f3f2" stroke="#f1ebea" stroke-width="0.5"/>
<rect x="151.07" y="492.87" width="14" height="10.2" fill="#f7f3f2" stroke="#f1ebea" stroke-width="0.5"/>
<rect x="166.84" y="492.87" width="14" height="10.2" fill="#f7f3f2" stroke="#f1ebea" stroke-width="0.5"/>
<rect x="182.61" y="492.87" width="14" height="10.2" fill="#f7f3f2" stroke="#f1ebea" stroke-width="0.5"/>
<rect x="198.38" y="492.87" width="14" height="10.2" fill="#f7f3f2" stroke="#f1ebea" stroke-width="0.5"/>
<rect x="214.15" y="492.87" width="14" height="10.2" fill="#f7f3f2" stroke="#f1ebea" stroke-width="0.5"/>
<rect x="229.92" y="492.87" width="14" height="10.2" fill="#f7f3f2" stroke="#f1ebea" stroke-width="0.5"/>
<rect x="245.69" y="492.87" width="14" height="10.2" fill="#f7f3f2" stroke="#f1ebea" stroke-width="0.5"/>
<rect x="261.46" y="492.87" width="14" height="10.2" fill="#f7f3f2" stroke="#f1ebea" stroke-width="0.5"/>
<rect x="277.23" y="492.87" width="14" height="10.2" fill="#f7f3f2" stroke="#f1ebea" stroke-width="0.5"/>
<rect x="293" y="492.87" width="14" height="10.2" fill="#f7f3f2" stroke="#f1ebea" stroke-width="0.5"/>
<rect x="308.77" y="492.87" width="14" height="10.2" fill="#f7f3f2" stroke="#f1ebea" stroke-width="0.5"/>
<rect x="324.54" y="492.87" width="14" height="10.2" fill="#f7f3f2" stroke="#f1ebea" stroke-width="0.5"/>
<rect x="340.31" y="492.87" width="14" height="10.2" fill="#f7f3f2" stroke="#f1ebea" stroke-width="0.5"/>
<rect x="356.08" y="492.87" width="14" height="10.2" fill="#f7f3f2" stroke="#f1ebea" stroke-width="0.5"/>
<rect x="371.85" y="492.87" width="14" height="10.2" fill="#f7f3f2" stroke="#f1ebea" stroke-width="0.5"/>
<rect x="387.62" y="492.87" width="14" height="10.2" fill="#f7f3f2" stroke="#f1ebea" stroke-width="0.5"/>
<rect x="403.39" y="492.87" width="14" height="10.2" fill="#f7f3f2" stroke="#f1ebea" stroke-width="0.5"/>
<rect x="419.16" y="492.87" width="14" height="10.2" fill="#f7f3f2" stroke="#f1ebea" stroke-width="0.5"/>
<rect x="434.93" y="492.87" width="14" height="10.2" fill="#f7f3f2" stroke="#f1ebea" stroke-width="0.5"/>
<rect x="450.7" y="492.87" width="14" height="10.2" fill="#f7f3f2" stroke="#f1ebea" stroke-width="0.5"/>
<rect x="466.47" y="492.87" width="14" height="10.2" fill="#f7f3f2" stroke="#f1ebea" stroke-width="0.5"/>
<rect x="482.24" y="492.87" width="14" height="10.2" fill="#f7f3f2" stroke="#f1ebea" stroke-width="0.5"/>
<rect x="498.01" y="492.87" width="14" height="10.2" fill="#f7f3f2" stroke="#f1ebea" stroke-width="0.5"/>
<rect x="135.3" y="504.81" width="14" height="10.2" fill="#f7f3f2" stroke="#f1ebea" stroke-width="0.5"/>
<rect x="151.07" y="504.81" width="14" height="10.2" fill="#f7f3f2" stroke="#f1ebea" stroke-width="0.5"/>
<rect x="166.84" y="504.81" width="14" height="10.2" fill="#dfedd7" stroke="#d6e7cd" stroke-width="0.5"/>
<rect x="182.61" y="504.81" width="14" height="10.2" fill="#f7f3f2" stroke="#f1ebea" stroke-width="0.5"/>
<rect x="198.38" y="504.81" width="14" height="10.2" fill="#dfedd7" stroke="#d6e7cd" stroke-width="0.5"/>
<rect x="214.15" y="504.81" width="14" height="10.2" fill="#c9232b" stroke="#c0141d" stroke-width="0.5"/>
<rect x="229.92" y="504.81" width="14" height="10.2" fill="#f7f3f2" stroke="#f1ebea" stroke-width="0.5"/>
<rect x="245.69" y="504.81" width="14" height="10.2" fill="#f7f3f2" stroke="#f1ebea" stroke-width="0.5"/>
<rect x="261.46" y="504.81" width="14" height="10.2" fill="#f7f3f2" stroke="#f1ebea" stroke-width="0.5"/>
<rect x="277.23" y="504.81" width="14" height="10.2" fill="#f7f3f2" stroke="#f1ebea" stroke-width="0.5"/>
<rect x="293" y="504.81" width="14" height="10.2" fill="#f7f3f2" stroke="#f1ebea" stroke-width="0.5"/>
<rect x="308.77" y="504.81" width="14" height="10.2" fill="#67aa4b" stroke="#5a9f3d" stroke-width="0.5"/>
<rect x="324.54" y="504.81" width="14" height="10.2" fill="#f7f3f2" stroke="#f1ebea" stroke-width="0.5"/>
<rect x="340.31" y="504.81" width="14" height="10.2" fill="#f7f3f2" stroke="#f1ebea" stroke-width="0.5"/>
<rect x="356.08" y="504.81" width="14" height="10.2" fill="#d4575c" stroke="#cc464c" stroke-width="0.5"/>
<rect x="371.85" y="504.81" width="14" height="10.2" fill="#f7f3f2" stroke="#f1ebea" stroke-width="0.5"/>
<rect x="387.62" y="504.81" width="14" height="10.2" fill="#f7f3f2" stroke="#f1ebea" stroke-width="0.5"/>
<rect x="403.39" y="504.81" width="14" height="10.2" fill="#f7f3f2" stroke="#f1ebea" stroke-width="0.5"/>
<rect x="419.16" y="504.81" width="14" height="10.2" fill="#f7f3f2" stroke="#f1ebea" stroke-width="0.5"/>
<rect x="434.93" y="504.81" width="14" height="10.2" fill="#f7f3f2" stroke="#f1ebea" stroke-width="0.5"/>
<rect x="450.7" y="504.81" width="14" height="10.2" fill="#f7f3f2" stroke="#f1ebea" stroke-width="0.5"/>
<rect x="466.47" y="504.81" width="14" height="10.2" fill="#f7f3f2" stroke="#f1ebea" stroke-width="0.5"/>
<rect x="482.24" y="504.81" width="14" height="10.2" fill="#f7f3f2" stroke="#f1ebea" stroke-width="0.5"/>
<rect x="498.01" y="504.81" width="14" height="10.2" fill="#f7f3f2" stroke="#f1ebea" stroke-width="0.5"/>
<rect x="135.3" y="516.75" width="14" height="10.2" fill="#dfedd7" stroke="#d6e7cd" stroke-width="0.5"/>
<rect x="151.07" y="516.75" width="14" height="10.2" fill="#f7f3f2" stroke="#f1ebea" stroke-width="0.5"/>
<rect x="166.84" y="516.75" width="14" height="10.2" fill="#f7f3f2" stroke="#f1ebea" stroke-width="0.5"/>
<rect x="182.61" y="516.75" width="14" height="10.2" fill="#f7f3f2" stroke="#f1ebea" stroke-width="0.5"/>
<rect x="198.38" y="516.75" width="14" height="10.2" fill="#f7f3f2" stroke="#f1ebea" stroke-width="0.5"/>
<rect x="214.15" y="516.75" width="14" height="10.2" fill="#d4575c" stroke="#cc464c" stroke-width="0.5"/>
<rect x="229.92" y="516.75" width="14" height="10.2" fill="#f7f3f2" stroke="#f1ebea" stroke-width="0.5"/>
<rect x="245.69" y="516.75" width="14" height="10.2" fill="#f7f3f2" stroke="#f1ebea" stroke-width="0.5"/>
<rect x="261.46" y="516.75" width="14" height="10.2" fill="#e09a9d" stroke="#d98c90" stroke-width="0.5"/>
<rect x="277.23" y="516.75" width="14" height="10.2" fill="#dfedd7" stroke="#d6e7cd" stroke-width="0.5"/>
<rect x="293" y="516.75" width="14" height="10.2" fill="#f7f3f2" stroke="#f1ebea" stroke-width="0.5"/>
<rect x="308.77" y="516.75" width="14" height="10.2" fill="#f7f3f2" stroke="#f1ebea" stroke-width="0.5"/>
<rect x="324.54" y="516.75" width="14" height="10.2" fill="#f7f3f2" stroke="#f1ebea" stroke-width="0.5"/>
<rect x="340.31" y="516.75" width="14" height="10.2" fill="#dfedd7" stroke="#d6e7cd" stroke-width="0.5"/>
<rect x="356.08" y="516.75" width="14" height="10.2" fill="#f7f3f2" stroke="#f1ebea" stroke-width="0.5"/>
<rect x="371.85" y="516.75" width="14" height="10.2" fill="#f7f3f2" stroke="#f1ebea" stroke-width="0.5"/>
<rect x="387.62" y="516.75" width="14" height="10.2" fill="#dfedd7" stroke="#d6e7cd" stroke-width="0.5"/>
<rect x="403.39" y="516.75" width="14" height="10.2" fill="#dfedd7" stroke="#d6e7cd" stroke-width="0.5"/>
<rect x="419.16" y="516.75" width="14" height="10.2" fill="#f7f3f2" stroke="#f1ebea" stroke-width="0.5"/>
<rect x="434.93" y="516.75" width="14" height="10.2" fill="#a5cb90" stroke="#97c281" stroke-width="0.5"/>
<rect x="450.7" y="516.75" width="14" height="10.2" fill="#d4575c" stroke="#cc464c" stroke-width="0.5"/>
<rect x="466.47" y="516.75" width="14" height="10.2" fill="#dfedd7" stroke="#d6e7cd" stroke-width="0.5"/>
<rect x="482.24" y="516.75" width="14" height="10.2" fill="#dfedd7" stroke="#d6e7cd" stroke-width="0.5"/>
<rect x="498.01" y="516.75" width="14" height="10.2" fill="#f7f3f2" stroke="#f1ebea" stroke-width="0.5"/>
<rect x="135.3" y="528.69" width="14" height="10.2" fill="#f7f3f2" stroke="#f1ebea" stroke-width="0.5"/>
<rect x="151.07" y="528.69" width="14" height="10.2" fill="#dfedd7" stroke="#d6e7cd" stroke-width="0.5"/>
<rect x="166.84" y="528.69" width="14" height="10.2" fill="#f7f3f2" stroke="#f1ebea" stroke-width="0.5"/>
<rect x="182.61" y="528.69" width="14" height="10.2" fill="#f7f3f2" stroke="#f1ebea" stroke-width="0.5"/>
<rect x="198.38" y="528.69" width="14" height="10.2" fill="#f7f3f2" stroke="#f1ebea" stroke-width="0.5"/>
<rect x="214.15" y="528.69" width="14" height="10.2" fill="#c9232b" stroke="#c0141d" stroke-width="0.5"/>
<rect x="229.92" y="528.69" width="14" height="10.2" fill="#f7f3f2" stroke="#f1ebea" stroke-width="0.5"/>
<rect x="245.69" y="528.69" width="14" height="10.2" fill="#f7f3f2" stroke="#f1ebea" stroke-width="0.5"/>
<rect x="261.46" y="528.69" width="14" height="10.2" fill="#f7f3f2" stroke="#f1ebea" stroke-width="0.5"/>
<rect x="277.23" y="528.69" width="14" height="10.2" fill="#f7f3f2" stroke="#f1ebea" stroke-width="0.5"/>
<rect x="293" y="528.69" width="14" height="10.2" fill="#f7f3f2" stroke="#f1ebea" stroke-width="0.5"/>
<rect x="308.77" y="528.69" width="14" height="10.2" fill="#f7f3f2" stroke="#f1ebea" stroke-width="0.5"/>
<rect x="324.54" y="528.69" width="14" height="10.2" fill="#f7f3f2" stroke="#f1ebea" stroke-width="0.5"/>
<rect x="340.31" y="528.69" width="14" height="10.2" fill="#f7f3f2" stroke="#f1ebea" stroke-width="0.5"/>
<rect x="356.08" y="528.69" width="14" height="10.2" fill="#f7f3f2" stroke="#f1ebea" stroke-width="0.5"/>
<rect x="371.85" y="528.69" width="14" height="10.2" fill="#f7f3f2" stroke="#f1ebea" stroke-width="0.5"/>
<rect x="387.62" y="528.69" width="14" height="10.2" fill="#f7f3f2" stroke="#f1ebea" stroke-width="0.5"/>
<rect x="403.39" y="528.69" width="14" height="10.2" fill="#f7f3f2" stroke="#f1ebea" stroke-width="0.5"/>
<rect x="419.16" y="528.69" width="14" height="10.2" fill="#f7f3f2" stroke="#f1ebea" stroke-width="0.5"/>
<rect x="434.93" y="528.69" width="14" height="10.2" fill="#f7f3f2" stroke="#f1ebea" stroke-width="0.5"/>
<rect x="450.7" y="528.69" width="14" height="10.2" fill="#f7f3f2" stroke="#f1ebea" stroke-width="0.5"/>
<rect x="466.47" y="528.69" width="14" height="10.2" fill="#f7f3f2" stroke="#f1ebea" stroke-width="0.5"/>
<rect x="482.24" y="528.69" width="14" height="10.2" fill="#f7f3f2" stroke="#f1ebea" stroke-width="0.5"/>
<rect x="498.01" y="528.69" width="14" height="10.2" fill="#f7f3f2" stroke="#f1ebea" stroke-width="0.5"/>
<rect x="135.3" y="540.63" width="14" height="10.2" fill="#c9232b" stroke="#c0141d" stroke-width="0.5"/>
<rect x="151.07" y="540.63" width="14" height="10.2" fill="#d4575c" stroke="#cc464c" stroke-width="0.5"/>
<rect x="166.84" y="540.63" width="14" height="10.2" fill="#d4575c" stroke="#cc464c" stroke-width="0.5"/>
<rect x="182.61" y="540.63" width="14" height="10.2" fill="#dfedd7" stroke="#d6e7cd" stroke-width="0.5"/>
<rect x="198.38" y="540.63" width="14" height="10.2" fill="#d4575c" stroke="#cc464c" stroke-width="0.5"/>
<rect x="214.15" y="540.63" width="14" height="10.2" fill="#2e5a22" stroke="#234c18" stroke-width="0.5"/>
<rect x="229.92" y="540.63" width="14" height="10.2" fill="#f7f3f2" stroke="#f1ebea" stroke-width="0.5"/>
<rect x="245.69" y="540.63" width="14" height="10.2" fill="#c9232b" stroke="#c0141d" stroke-width="0.5"/>
<rect x="261.46" y="540.63" width="14" height="10.2" fill="#f7f3f2" stroke="#f1ebea" stroke-width="0.5"/>
<rect x="277.23" y="540.63" width="14" height="10.2" fill="#c9232b" stroke="#c0141d" stroke-width="0.5"/>
<rect x="293" y="540.63" width="14" height="10.2" fill="#f7f3f2" stroke="#f1ebea" stroke-width="0.5"/>
<rect x="308.77" y="540.63" width="14" height="10.2" fill="#d4575c" stroke="#cc464c" stroke-width="0.5"/>
<rect x="324.54" y="540.63" width="14" height="10.2" fill="#c9232b" stroke="#c0141d" stroke-width="0.5"/>
<rect x="340.31" y="540.63" width="14" height="10.2" fill="#d4575c" stroke="#cc464c" stroke-width="0.5"/>
<rect x="356.08" y="540.63" width="14" height="10.2" fill="#f7f3f2" stroke="#f1ebea" stroke-width="0.5"/>
<rect x="371.85" y="540.63" width="14" height="10.2" fill="#f7f3f2" stroke="#f1ebea" stroke-width="0.5"/>
<rect x="387.62" y="540.63" width="14" height="10.2" fill="#d4575c" stroke="#cc464c" stroke-width="0.5"/>
<rect x="403.39" y="540.63" width="14" height="10.2" fill="#c9232b" stroke="#c0141d" stroke-width="0.5"/>
<rect x="419.16" y="540.63" width="14" height="10.2" fill="#f7f3f2" stroke="#f1ebea" stroke-width="0.5"/>
<rect x="434.93" y="540.63" width="14" height="10.2" fill="#f7f3f2" stroke="#f1ebea" stroke-width="0.5"/>
<rect x="450.7" y="540.63" width="14" height="10.2" fill="#f7f3f2" stroke="#f1ebea" stroke-width="0.5"/>
<rect x="466.47" y="540.63" width="14" height="10.2" fill="#f7f3f2" stroke="#f1ebea" stroke-width="0.5"/>
<rect x="482.24" y="540.63" width="14" height="10.2" fill="#f7f3f2" stroke="#f1ebea" stroke-width="0.5"/>
<rect x="498.01" y="540.63" width="14" height="10.2" fill="#f7f3f2" stroke="#f1ebea" stroke-width="0.5"/>
<rect x="135.3" y="552.57" width="14" height="10.2" fill="#d4575c" stroke="#cc464c" stroke-width="0.5"/>
<rect x="151.07" y="552.57" width="14" height="10.2" fill="#e09a9d" stroke="#d98c90" stroke-width="0.5"/>
<rect x="166.84" y="552.57" width="14" height="10.2" fill="#f7f3f2" stroke="#f1ebea" stroke-width="0.5"/>
<rect x="182.61" y="552.57" width="14" height="10.2" fill="#dfedd7" stroke="#d6e7cd" stroke-width="0.5"/>
<rect x="198.38" y="552.57" width="14" height="10.2" fill="#d4575c" stroke="#cc464c" stroke-width="0.5"/>
<rect x="214.15" y="552.57" width="14" height="10.2" fill="#a5cb90" stroke="#97c281" stroke-width="0.5"/>
<rect x="229.92" y="552.57" width="14" height="10.2" fill="#f7f3f2" stroke="#f1ebea" stroke-width="0.5"/>
<rect x="245.69" y="552.57" width="14" height="10.2" fill="#f7f3f2" stroke="#f1ebea" stroke-width="0.5"/>
<rect x="261.46" y="552.57" width="14" height="10.2" fill="#f7f3f2" stroke="#f1ebea" stroke-width="0.5"/>
<rect x="277.23" y="552.57" width="14" height="10.2" fill="#c9232b" stroke="#c0141d" stroke-width="0.5"/>
<rect x="293" y="552.57" width="14" height="10.2" fill="#c9232b" stroke="#c0141d" stroke-width="0.5"/>
<rect x="308.77" y="552.57" width="14" height="10.2" fill="#f7f3f2" stroke="#f1ebea" stroke-width="0.5"/>
<rect x="324.54" y="552.57" width="14" height="10.2" fill="#f7f3f2" stroke="#f1ebea" stroke-width="0.5"/>
<rect x="340.31" y="552.57" width="14" height="10.2" fill="#d4575c" stroke="#cc464c" stroke-width="0.5"/>
<rect x="356.08" y="552.57" width="14" height="10.2" fill="#f7f3f2" stroke="#f1ebea" stroke-width="0.5"/>
<rect x="371.85" y="552.57" width="14" height="10.2" fill="#f7f3f2" stroke="#f1ebea" stroke-width="0.5"/>
<rect x="387.62" y="552.57" width="14" height="10.2" fill="#f7f3f2" stroke="#f1ebea" stroke-width="0.5"/>
<rect x="403.39" y="552.57" width="14" height="10.2" fill="#f7f3f2" stroke="#f1ebea" stroke-width="0.5"/>
<rect x="419.16" y="552.57" width="14" height="10.2" fill="#f7f3f2" stroke="#f1ebea" stroke-width="0.5"/>
<rect x="434.93" y="552.57" width="14" height="10.2" fill="#f7f3f2" stroke="#f1ebea" stroke-width="0.5"/>
<rect x="450.7" y="552.57" width="14" height="10.2" fill="#f7f3f2" stroke="#f1ebea" stroke-width="0.5"/>
<rect x="466.47" y="552.57" width="14" height="10.2" fill="#f7f3f2" stroke="#f1ebea" stroke-width="0.5"/>
<rect x="482.24" y="552.57" width="14" height="10.2" fill="#f7f3f2" stroke="#f1ebea" stroke-width="0.5"/>
<rect x="498.01" y="552.57" width="14" height="10.2" fill="#f7f3f2" stroke="#f1ebea" stroke-width="0.5"/>
<rect x="135.3" y="564.51" width="14" height="10.2" fill="#f7f3f2" stroke="#f1ebea" stroke-width="0.5"/>
<rect x="151.07" y="564.51" width="14" height="10.2" fill="#f7f3f2" stroke="#f1ebea" stroke-width="0.5"/>
<rect x="166.84" y="564.51" width="14" height="10.2" fill="#f7f3f2" stroke="#f1ebea" stroke-width="0.5"/>
<rect x="182.61" y="564.51" width="14" height="10.2" fill="#f7f3f2" stroke="#f1ebea" stroke-width="0.5"/>
<rect x="198.38" y="564.51" width="14" height="10.2" fill="#f7f3f2" stroke="#f1ebea" stroke-width="0.5"/>
<rect x="214.15" y="564.51" width="14" height="10.2" fill="#f7f3f2" stroke="#f1ebea" stroke-width="0.5"/>
<rect x="229.92" y="564.51" width="14" height="10.2" fill="#f7f3f2" stroke="#f1ebea" stroke-width="0.5"/>
<rect x="245.69" y="564.51" width="14" height="10.2" fill="#f7f3f2" stroke="#f1ebea" stroke-width="0.5"/>
<rect x="261.46" y="564.51" width="14" height="10.2" fill="#f7f3f2" stroke="#f1ebea" stroke-width="0.5"/>
<rect x="277.23" y="564.51" width="14" height="10.2" fill="#f7f3f2" stroke="#f1ebea" stroke-width="0.5"/>
<rect x="293" y="564.51" width="14" height="10.2" fill="#f7f3f2" stroke="#f1ebea" stroke-width="0.5"/>
<rect x="308.77" y="564.51" width="14" height="10.2" fill="#f7f3f2" stroke="#f1ebea" stroke-width="0.5"/>
<rect x="324.54" y="564.51" width="14" height="10.2" fill="#f7f3f2" stroke="#f1ebea" stroke-width="0.5"/>
<rect x="340.31" y="564.51" width="14" height="10.2" fill="#f7f3f2" stroke="#f1ebea" stroke-width="0.5"/>
<rect x="356.08" y="564.51" width="14" height="10.2" fill="#f7f3f2" stroke="#f1ebea" stroke-width="0.5"/>
<rect x="371.85" y="564.51" width="14" height="10.2" fill="#f7f3f2" stroke="#f1ebea" stroke-width="0.5"/>
<rect x="387.62" y="564.51" width="14" height="10.2" fill="#f7f3f2" stroke="#f1ebea" stroke-width="0.5"/>
<rect x="403.39" y="564.51" width="14" height="10.2" fill="#f7f3f2" stroke="#f1ebea" stroke-width="0.5"/>
<rect x="419.16" y="564.51" width="14" height="10.2" fill="#f7f3f2" stroke="#f1ebea" stroke-width="0.5"/>
<rect x="434.93" y="564.51" width="14" height="10.2" fill="#f7f3f2" stroke="#f1ebea" stroke-width="0.5"/>
<rect x="450.7" y="564.51" width="14" height="10.2" fill="#f7f3f2" stroke="#f1ebea" stroke-width="0.5"/>
<rect x="466.47" y="564.51" width="14" height="10.2" fill="#f7f3f2" stroke="#f1ebea" stroke-width="0.5"/>
<rect x="482.24" y="564.51" width="14" height="10.2" fill="#f7f3f2" stroke="#f1ebea" stroke-width="0.5"/>
<rect x="498.01" y="564.51" width="14" height="10.2" fill="#f7f3f2" stroke="#f1ebea" stroke-width="0.5"/>
<rect x="135.3" y="576.45" width="14" height="10.2" fill="#e09a9d" stroke="#d98c90" stroke-width="0.5"/>
<rect x="151.07" y="576.45" width="14" height="10.2" fill="#f7f3f2" stroke="#f1ebea" stroke-width="0.5"/>
<rect x="166.84" y="576.45" width="14" height="10.2" fill="#f7f3f2" stroke="#f1ebea" stroke-width="0.5"/>
<rect x="182.61" y="576.45" width="14" height="10.2" fill="#f7f3f2" stroke="#f1ebea" stroke-width="0.5"/>
<rect x="198.38" y="576.45" width="14" height="10.2" fill="#f7f3f2" stroke="#f1ebea" stroke-width="0.5"/>
<rect x="214.15" y="576.45" width="14" height="10.2" fill="#f7f3f2" stroke="#f1ebea" stroke-width="0.5"/>
<rect x="229.92" y="576.45" width="14" height="10.2" fill="#f7f3f2" stroke="#f1ebea" stroke-width="0.5"/>
<rect x="245.69" y="576.45" width="14" height="10.2" fill="#f7f3f2" stroke="#f1ebea" stroke-width="0.5"/>
<rect x="261.46" y="576.45" width="14" height="10.2" fill="#f7f3f2" stroke="#f1ebea" stroke-width="0.5"/>
<rect x="277.23" y="576.45" width="14" height="10.2" fill="#d4575c" stroke="#cc464c" stroke-width="0.5"/>
<rect x="293" y="576.45" width="14" height="10.2" fill="#f7f3f2" stroke="#f1ebea" stroke-width="0.5"/>
<rect x="308.77" y="576.45" width="14" height="10.2" fill="#f7f3f2" stroke="#f1ebea" stroke-width="0.5"/>
<rect x="324.54" y="576.45" width="14" height="10.2" fill="#f7f3f2" stroke="#f1ebea" stroke-width="0.5"/>
<rect x="340.31" y="576.45" width="14" height="10.2" fill="#f7f3f2" stroke="#f1ebea" stroke-width="0.5"/>
<rect x="356.08" y="576.45" width="14" height="10.2" fill="#f7f3f2" stroke="#f1ebea" stroke-width="0.5"/>
<rect x="371.85" y="576.45" width="14" height="10.2" fill="#f7f3f2" stroke="#f1ebea" stroke-width="0.5"/>
<rect x="387.62" y="576.45" width="14" height="10.2" fill="#f7f3f2" stroke="#f1ebea" stroke-width="0.5"/>
<rect x="403.39" y="576.45" width="14" height="10.2" fill="#f7f3f2" stroke="#f1ebea" stroke-width="0.5"/>
<rect x="419.16" y="576.45" width="14" height="10.2" fill="#f7f3f2" stroke="#f1ebea" stroke-width="0.5"/>
<rect x="434.93" y="576.45" width="14" height="10.2" fill="#f7f3f2" stroke="#f1ebea" stroke-width="0.5"/>
<rect x="450.7" y="576.45" width="14" height="10.2" fill="#f7f3f2" stroke="#f1ebea" stroke-width="0.5"/>
<rect x="466.47" y="576.45" width="14" height="10.2" fill="#f7f3f2" stroke="#f1ebea" stroke-width="0.5"/>
<rect x="482.24" y="576.45" width="14" height="10.2" fill="#f7f3f2" stroke="#f1ebea" stroke-width="0.5"/>
<rect x="498.01" y="576.45" width="14" height="10.2" fill="#f7f3f2" stroke="#f1ebea" stroke-width="0.5"/>
<g fill="#161616">
<circle cx="140.85" cy="402.05" r="1.15"/><circle cx="144.15" cy="402.05" r="1.15"/>
</g>
<g fill="#161616">
<circle cx="174.04" cy="402.05" r="1.15"/>
</g>
<g fill="#161616">
<circle cx="219.7" cy="402.05" r="1.15"/><circle cx="223" cy="402.05" r="1.15"/>
</g>
<g fill="#161616">
<circle cx="267.01" cy="402.05" r="1.15"/><circle cx="270.31" cy="402.05" r="1.15"/>
</g>
<g fill="#161616">
<circle cx="363.28" cy="402.05" r="1.15"/>
</g>
<g fill="#161616">
<circle cx="393.17" cy="402.05" r="1.15"/><circle cx="396.47" cy="402.05" r="1.15"/>
</g>
<g fill="#161616">
<circle cx="442.13" cy="402.05" r="1.15"/>
</g>
<g fill="#161616">
<circle cx="156.62" cy="413.99" r="1.15"/><circle cx="159.92" cy="413.99" r="1.15"/>
</g>
<g fill="#161616">
<circle cx="174.04" cy="413.99" r="1.15"/>
</g>
<g fill="#161616">
<circle cx="203.93" cy="413.99" r="1.15"/><circle cx="207.23" cy="413.99" r="1.15"/>
</g>
<g fill="#161616">
<circle cx="219.7" cy="413.99" r="1.15"/><circle cx="223" cy="413.99" r="1.15"/>
</g>
<g fill="#161616">
<circle cx="300.2" cy="413.99" r="1.15"/>
</g>
<g fill="#161616">
<circle cx="314.32" cy="413.99" r="1.15"/><circle cx="317.62" cy="413.99" r="1.15"/>
</g>
<g fill="#161616">
<circle cx="361.63" cy="413.99" r="1.15"/><circle cx="364.93" cy="413.99" r="1.15"/>
</g>
<g fill="#161616">
<circle cx="457.9" cy="413.99" r="1.15"/>
</g>
<g fill="#161616">
<circle cx="473.67" cy="413.99" r="1.15"/>
</g>
<g fill="#161616">
<circle cx="505.21" cy="413.99" r="1.15"/>
</g>
<g fill="#161616">
<circle cx="140.85" cy="425.93" r="1.15"/><circle cx="144.15" cy="425.93" r="1.15"/>
</g>
<g fill="#161616">
<circle cx="156.62" cy="425.93" r="1.15"/><circle cx="159.92" cy="425.93" r="1.15"/>
</g>
<g fill="#161616">
<circle cx="189.81" cy="425.93" r="1.15"/>
</g>
<g fill="#161616">
<circle cx="203.93" cy="425.93" r="1.15"/><circle cx="207.23" cy="425.93" r="1.15"/>
</g>
<g fill="#161616">
<circle cx="219.7" cy="425.93" r="1.15"/><circle cx="223" cy="425.93" r="1.15"/>
</g>
<g fill="#161616">
<circle cx="237.12" cy="425.93" r="1.15"/>
</g>
<g fill="#161616">
<circle cx="267.01" cy="425.93" r="1.15"/><circle cx="270.31" cy="425.93" r="1.15"/>
</g>
<g fill="#161616">
<circle cx="282.78" cy="425.93" r="1.15"/><circle cx="286.08" cy="425.93" r="1.15"/>
</g>
<g fill="#161616">
<circle cx="300.2" cy="425.93" r="1.15"/>
</g>
<g fill="#161616">
<circle cx="314.32" cy="425.93" r="1.15"/><circle cx="317.62" cy="425.93" r="1.15"/>
</g>
<g fill="#161616">
<circle cx="345.86" cy="425.93" r="1.15"/><circle cx="349.16" cy="425.93" r="1.15"/>
</g>
<g fill="#161616">
<circle cx="393.17" cy="425.93" r="1.15"/><circle cx="396.47" cy="425.93" r="1.15"/>
</g>
<g fill="#161616">
<circle cx="410.59" cy="425.93" r="1.15"/>
</g>
<g fill="#161616">
<circle cx="456.25" cy="425.93" r="1.15"/><circle cx="459.55" cy="425.93" r="1.15"/>
</g>
<g fill="#161616">
<circle cx="174.04" cy="437.87" r="1.15"/>
</g>
<g fill="#161616">
<circle cx="205.58" cy="437.87" r="1.15"/>
</g>
<g fill="#161616">
<circle cx="221.35" cy="437.87" r="1.15"/>
</g>
<g fill="#161616">
<circle cx="235.47" cy="437.87" r="1.15"/><circle cx="238.77" cy="437.87" r="1.15"/>
</g>
<g fill="#161616">
<circle cx="410.59" cy="437.87" r="1.15"/>
</g>
<g fill="#161616">
<circle cx="424.71" cy="437.87" r="1.15"/><circle cx="428.01" cy="437.87" r="1.15"/>
</g>
<g fill="#161616">
<circle cx="456.25" cy="437.87" r="1.15"/><circle cx="459.55" cy="437.87" r="1.15"/>
</g>
<g fill="#161616">
<circle cx="472.02" cy="437.87" r="1.15"/><circle cx="475.32" cy="437.87" r="1.15"/>
</g>
<g fill="#161616">
<circle cx="489.44" cy="437.87" r="1.15"/>
</g>
<g fill="#161616">
<circle cx="503.56" cy="437.87" r="1.15"/><circle cx="506.86" cy="437.87" r="1.15"/>
</g>
<g fill="#161616">
<circle cx="158.27" cy="449.81" r="1.15"/>
</g>
<g fill="#161616">
<circle cx="174.04" cy="449.81" r="1.15"/>
</g>
<g fill="#161616">
<circle cx="203.93" cy="449.81" r="1.15"/><circle cx="207.23" cy="449.81" r="1.15"/>
</g>
<g fill="#161616">
<circle cx="505.21" cy="449.81" r="1.15"/>
</g>
<g fill="#161616">
<circle cx="140.85" cy="461.75" r="1.15"/><circle cx="144.15" cy="461.75" r="1.15"/>
</g>
<g fill="#161616">
<circle cx="203.93" cy="461.75" r="1.15"/><circle cx="207.23" cy="461.75" r="1.15"/>
</g>
<g fill="#161616">
<circle cx="219.7" cy="461.75" r="1.15"/><circle cx="223" cy="461.75" r="1.15"/>
</g>
<g fill="#161616">
<circle cx="267.01" cy="461.75" r="1.15"/><circle cx="270.31" cy="461.75" r="1.15"/>
</g>
<g fill="#161616">
<circle cx="345.86" cy="461.75" r="1.15"/><circle cx="349.16" cy="461.75" r="1.15"/>
</g>
<g fill="#161616">
<circle cx="140.85" cy="473.69" r="1.15"/><circle cx="144.15" cy="473.69" r="1.15"/>
</g>
<g fill="#161616">
<circle cx="156.62" cy="473.69" r="1.15"/><circle cx="159.92" cy="473.69" r="1.15"/>
</g>
<g fill="#161616">
<circle cx="203.93" cy="473.69" r="1.15"/><circle cx="207.23" cy="473.69" r="1.15"/>
</g>
<g fill="#161616">
<circle cx="219.7" cy="473.69" r="1.15"/><circle cx="223" cy="473.69" r="1.15"/>
</g>
<g fill="#161616">
<circle cx="267.01" cy="473.69" r="1.15"/><circle cx="270.31" cy="473.69" r="1.15"/>
</g>
<g fill="#161616">
<circle cx="282.78" cy="473.69" r="1.15"/><circle cx="286.08" cy="473.69" r="1.15"/>
</g>
<g fill="#161616">
<circle cx="315.97" cy="473.69" r="1.15"/>
</g>
<g fill="#161616">
<circle cx="331.74" cy="473.69" r="1.15"/>
</g>
<g fill="#161616">
<circle cx="345.86" cy="473.69" r="1.15"/><circle cx="349.16" cy="473.69" r="1.15"/>
</g>
<g fill="#161616">
<circle cx="393.17" cy="473.69" r="1.15"/><circle cx="396.47" cy="473.69" r="1.15"/>
</g>
<g fill="#161616">
<circle cx="456.25" cy="473.69" r="1.15"/><circle cx="459.55" cy="473.69" r="1.15"/>
</g>
<g fill="#161616">
<circle cx="489.44" cy="473.69" r="1.15"/>
</g>
<g fill="#161616">
<circle cx="140.85" cy="485.63" r="1.15"/><circle cx="144.15" cy="485.63" r="1.15"/>
</g>
<g fill="#161616">
<circle cx="205.58" cy="485.63" r="1.15"/>
</g>
<g fill="#161616">
<circle cx="219.7" cy="485.63" r="1.15"/><circle cx="223" cy="485.63" r="1.15"/>
</g>
<g fill="#161616">
<circle cx="282.78" cy="485.63" r="1.15"/><circle cx="286.08" cy="485.63" r="1.15"/>
</g>
<g fill="#161616">
<circle cx="393.17" cy="485.63" r="1.15"/><circle cx="396.47" cy="485.63" r="1.15"/>
</g>
<g fill="#161616">
<circle cx="410.59" cy="485.63" r="1.15"/>
</g>
<g fill="#161616">
<circle cx="442.13" cy="485.63" r="1.15"/>
</g>
<g fill="#161616">
<circle cx="174.04" cy="509.51" r="1.15"/>
</g>
<g fill="#161616">
<circle cx="219.7" cy="509.51" r="1.15"/><circle cx="223" cy="509.51" r="1.15"/>
</g>
<g fill="#161616">
<circle cx="314.32" cy="509.51" r="1.15"/><circle cx="317.62" cy="509.51" r="1.15"/>
</g>
<g fill="#161616">
<circle cx="363.28" cy="509.51" r="1.15"/>
</g>
<g fill="#161616">
<circle cx="140.85" cy="521.45" r="1.15"/><circle cx="144.15" cy="521.45" r="1.15"/>
</g>
<g fill="#161616">
<circle cx="219.7" cy="521.45" r="1.15"/><circle cx="223" cy="521.45" r="1.15"/>
</g>
<g fill="#161616">
<circle cx="284.43" cy="521.45" r="1.15"/>
</g>
<g fill="#161616">
<circle cx="410.59" cy="521.45" r="1.15"/>
</g>
<g fill="#161616">
<circle cx="456.25" cy="521.45" r="1.15"/><circle cx="459.55" cy="521.45" r="1.15"/>
</g>
<g fill="#161616">
<circle cx="473.67" cy="521.45" r="1.15"/>
</g>
<g fill="#161616">
<circle cx="489.44" cy="521.45" r="1.15"/>
</g>
<g fill="#161616">
<circle cx="156.62" cy="533.39" r="1.15"/><circle cx="159.92" cy="533.39" r="1.15"/>
</g>
<g fill="#161616">
<circle cx="140.85" cy="545.33" r="1.15"/><circle cx="144.15" cy="545.33" r="1.15"/>
</g>
<g fill="#161616">
<circle cx="156.62" cy="545.33" r="1.15"/><circle cx="159.92" cy="545.33" r="1.15"/>
</g>
<g fill="#161616">
<circle cx="205.58" cy="545.33" r="1.15"/>
</g>
<g fill="#161616">
<circle cx="219.7" cy="545.33" r="1.15"/><circle cx="223" cy="545.33" r="1.15"/>
</g>
<g fill="#161616">
<circle cx="284.43" cy="545.33" r="1.15"/>
</g>
<g fill="#161616">
<circle cx="315.97" cy="545.33" r="1.15"/>
</g>
<g fill="#161616">
<circle cx="140.85" cy="557.27" r="1.15"/><circle cx="144.15" cy="557.27" r="1.15"/>
</g>
<g fill="#161616">
<circle cx="158.27" cy="557.27" r="1.15"/>
</g>
<g fill="#161616">
<circle cx="203.93" cy="557.27" r="1.15"/><circle cx="207.23" cy="557.27" r="1.15"/>
</g>
<g fill="#161616">
<circle cx="219.7" cy="557.27" r="1.15"/><circle cx="223" cy="557.27" r="1.15"/>
</g>
<g fill="#161616">
<circle cx="282.78" cy="557.27" r="1.15"/><circle cx="286.08" cy="557.27" r="1.15"/>
</g>
<g fill="#161616">
<circle cx="298.55" cy="557.27" r="1.15"/><circle cx="301.85" cy="557.27" r="1.15"/>
</g>
<g fill="#161616">
<circle cx="142.5" cy="581.15" r="1.15"/>
</g>
</g>
<g>
<g font-size="8.5">
<text x="73.4" y="28.85" text-anchor="end" fill="#74b04f" font-style="italic" textLength="24.2" lengthAdjust="spacingAndGlyphs" stroke="#74b04f" stroke-width="0.22" transform="rotate(0.05 73.4 28.85)">ASXL1</text>
<text x="73.4" y="39.67" text-anchor="end" fill="#74b04f" font-style="italic" textLength="18.4" lengthAdjust="spacingAndGlyphs" stroke="#74b04f" stroke-width="0.22" transform="rotate(0.05 73.4 39.67)">TET2</text>
<text x="73.4" y="50.49" text-anchor="end" fill="#74b04f" font-style="italic" textLength="19.6" lengthAdjust="spacingAndGlyphs" stroke="#74b04f" stroke-width="0.22" transform="rotate(0.05 73.4 50.49)">EZH2</text>
<text x="73.4" y="61.31" text-anchor="end" fill="#74b04f" font-style="italic" textLength="34.3" lengthAdjust="spacingAndGlyphs" stroke="#74b04f" stroke-width="0.22" transform="rotate(0.05 73.4 61.31)">DNMT3A</text>
<text x="73.4" y="72.13" text-anchor="end" fill="#4d5163" font-style="italic" textLength="23.2" lengthAdjust="spacingAndGlyphs" stroke="#4d5163" stroke-width="0.22" transform="rotate(0.05 73.4 72.13)">SRSF2</text>
<text x="73.4" y="82.95" text-anchor="end" fill="#4d5163" font-style="italic" textLength="23.2" lengthAdjust="spacingAndGlyphs" stroke="#4d5163" stroke-width="0.22" transform="rotate(0.05 73.4 82.95)">SF3B1</text>
<text x="73.4" y="93.77" text-anchor="end" fill="#4d5163" font-style="italic" textLength="24.5" lengthAdjust="spacingAndGlyphs" stroke="#4d5163" stroke-width="0.22" transform="rotate(0.05 73.4 93.77)">U2AF1</text>
<text x="73.4" y="104.59" text-anchor="end" fill="#4d5163" font-style="italic" textLength="23.7" lengthAdjust="spacingAndGlyphs" stroke="#4d5163" stroke-width="0.22" transform="rotate(0.05 73.4 104.59)">ZRSR2</text>
<text x="73.4" y="115.41" text-anchor="end" fill="#38548f" font-style="italic" textLength="19.6" lengthAdjust="spacingAndGlyphs" stroke="#38548f" stroke-width="0.22" transform="rotate(0.05 73.4 115.41)">JAK2</text>
<text x="73.4" y="126.23" text-anchor="end" fill="#38548f" font-style="italic" textLength="21.4" lengthAdjust="spacingAndGlyphs" stroke="#38548f" stroke-width="0.22" transform="rotate(0.05 73.4 126.23)">NRAS</text>
<text x="73.4" y="137.05" text-anchor="end" fill="#38548f" font-style="italic" textLength="14.6" lengthAdjust="spacingAndGlyphs" stroke="#38548f" stroke-width="0.22" transform="rotate(0.05 73.4 137.05)">CBL</text>
<text x="73.4" y="147.87" text-anchor="end" fill="#38548f" font-style="italic" textLength="20.2" lengthAdjust="spacingAndGlyphs" stroke="#38548f" stroke-width="0.22" transform="rotate(0.05 73.4 147.87)">KRAS</text>
<text x="73.4" y="158.69" text-anchor="end" fill="#38548f" font-style="italic" textLength="29.3" lengthAdjust="spacingAndGlyphs" stroke="#38548f" stroke-width="0.22" transform="rotate(0.05 73.4 158.69)">PTPN11</text>
<text x="73.4" y="169.51" text-anchor="end" fill="#ca2587" font-style="italic" textLength="26.3" lengthAdjust="spacingAndGlyphs" stroke="#ca2587" stroke-width="0.22" transform="rotate(0.05 73.4 169.51)">RUNX1</text>
<text x="73.4" y="180.33" text-anchor="end" fill="#ca2587" font-style="italic" textLength="26.7" lengthAdjust="spacingAndGlyphs" stroke="#ca2587" stroke-width="0.22" transform="rotate(0.05 73.4 180.33)">GATA2</text>
<text x="73.4" y="191.15" text-anchor="end" fill="#ca2587" font-style="italic" textLength="20.7" lengthAdjust="spacingAndGlyphs" stroke="#ca2587" stroke-width="0.22" transform="rotate(0.05 73.4 191.15)">CUX1</text>
<text x="73.4" y="201.97" text-anchor="end" fill="#e8b52e" font-style="italic" textLength="28.2" lengthAdjust="spacingAndGlyphs" stroke="#e8b52e" stroke-width="0.22" transform="rotate(0.05 73.4 201.97)">SETBP1</text>
<text x="73.4" y="212.79" text-anchor="end" fill="#e8b52e" font-style="italic" textLength="26" lengthAdjust="spacingAndGlyphs" stroke="#e8b52e" stroke-width="0.22" transform="rotate(0.05 73.4 212.79)">STAG2</text>
<text x="73.4" y="223.61" text-anchor="end" fill="#e8b52e" font-style="italic" textLength="17.7" lengthAdjust="spacingAndGlyphs" stroke="#e8b52e" stroke-width="0.22" transform="rotate(0.05 73.4 223.61)">TP53</text>
<text x="73.4" y="234.43" text-anchor="end" fill="#e8b52e" font-style="italic" textLength="24.5" lengthAdjust="spacingAndGlyphs" stroke="#e8b52e" stroke-width="0.22" transform="rotate(0.05 73.4 234.43)">CSF3R</text>
<text x="72.5" y="245.25" text-anchor="end" fill="#1a1a1a" textLength="11.4" lengthAdjust="spacingAndGlyphs" stroke="#1a1a1a" stroke-width="0.22" transform="rotate(0.05 72.5 245.25)">NK</text>
<text x="73.1" y="256.07" text-anchor="end" fill="#1a1a1a" textLength="9" lengthAdjust="spacingAndGlyphs" stroke="#1a1a1a" stroke-width="0.22" transform="rotate(0.05 73.1 256.07)">+8</text>
<text x="73.5" y="266.89" text-anchor="end" fill="#1a1a1a" textLength="36.2" lengthAdjust="spacingAndGlyphs" stroke="#1a1a1a" stroke-width="0.22" transform="rotate(0.05 73.5 266.89)">-7/del(7q)</text>
<text x="72.5" y="277.71" text-anchor="end" fill="#1a1a1a" textLength="10.6" lengthAdjust="spacingAndGlyphs" stroke="#1a1a1a" stroke-width="0.22" transform="rotate(0.05 72.5 277.71)">CK</text>
<text transform="translate(90.83,286.6) rotate(-89.95)" text-anchor="end" fill="#74b04f" font-style="italic" textLength="24.2" lengthAdjust="spacingAndGlyphs" stroke="#74b04f" stroke-width="0.22">ASXL1</text>
<text transform="translate(108.5,286.6) rotate(-89.95)" text-anchor="end" fill="#74b04f" font-style="italic" textLength="18.4" lengthAdjust="spacingAndGlyphs" stroke="#74b04f" stroke-width="0.22">TET2</text>
<text transform="translate(126.89,286.6) rotate(-89.95)" text-anchor="end" fill="#74b04f" font-style="italic" textLength="19.6" lengthAdjust="spacingAndGlyphs" stroke="#74b04f" stroke-width="0.22">EZH2</text>
<text transform="translate(144.56,286.6) rotate(-89.95)" text-anchor="end" fill="#74b04f" font-style="italic" textLength="34.3" lengthAdjust="spacingAndGlyphs" stroke="#74b04f" stroke-width="0.22">DNMT3A</text>
<text transform="translate(162.75,286.6) rotate(-89.95)" text-anchor="end" fill="#4d5163" textLength="23.2" lengthAdjust="spacingAndGlyphs" stroke="#4d5163" stroke-width="0.22">SRSF2</text>
<text transform="translate(180.55,286.6) rotate(-89.95)" text-anchor="end" fill="#4d5163" textLength="23.2" lengthAdjust="spacingAndGlyphs" stroke="#4d5163" stroke-width="0.22">SF3B1</text>
<text transform="translate(198.77,286.6) rotate(-89.95)" text-anchor="end" fill="#4d5163" font-style="italic" textLength="24.5" lengthAdjust="spacingAndGlyphs" stroke="#4d5163" stroke-width="0.22">U2AF1</text>
<text transform="translate(216.6,286.6) rotate(-89.95)" text-anchor="end" fill="#4d5163" font-style="italic" textLength="23.7" lengthAdjust="spacingAndGlyphs" stroke="#4d5163" stroke-width="0.22">ZRSR2</text>
<text transform="translate(235.39,286.6) rotate(-89.95)" text-anchor="end" fill="#38548f" font-style="italic" textLength="19.6" lengthAdjust="spacingAndGlyphs" stroke="#38548f" stroke-width="0.22">JAK2</text>
<text transform="translate(253.34,286.6) rotate(-89.95)" text-anchor="end" fill="#38548f" font-style="italic" textLength="21.4" lengthAdjust="spacingAndGlyphs" stroke="#38548f" stroke-width="0.22">NRAS</text>
<text transform="translate(271.23,286.6) rotate(-89.95)" text-anchor="end" fill="#38548f" font-style="italic" textLength="14.6" lengthAdjust="spacingAndGlyphs" stroke="#38548f" stroke-width="0.22">CBL</text>
<text transform="translate(289.32,286.6) rotate(-89.95)" text-anchor="end" fill="#38548f" font-style="italic" textLength="20.2" lengthAdjust="spacingAndGlyphs" stroke="#38548f" stroke-width="0.22">KRAS</text>
<text transform="translate(308.06,286.6) rotate(-89.95)" text-anchor="end" fill="#38548f" font-style="italic" textLength="29.3" lengthAdjust="spacingAndGlyphs" stroke="#38548f" stroke-width="0.22">PTPN11</text>
<text transform="translate(325.37,286.6) rotate(-89.95)" text-anchor="end" fill="#ca2587" font-style="italic" textLength="26.3" lengthAdjust="spacingAndGlyphs" stroke="#ca2587" stroke-width="0.22">RUNX1</text>
<text transform="translate(343.29,286.6) rotate(-89.95)" text-anchor="end" fill="#ca2587" font-style="italic" textLength="26.7" lengthAdjust="spacingAndGlyphs" stroke="#ca2587" stroke-width="0.22">GATA2</text>
<text transform="translate(361.15,286.6) rotate(-89.95)" text-anchor="end" fill="#ca2587" font-style="italic" textLength="20.7" lengthAdjust="spacingAndGlyphs" stroke="#ca2587" stroke-width="0.22">CUX1</text>
<text transform="translate(379.77,286.6) rotate(-89.95)" text-anchor="end" fill="#e8b52e" font-style="italic" textLength="28.2" lengthAdjust="spacingAndGlyphs" stroke="#e8b52e" stroke-width="0.22">SETBP1</text>
<text transform="translate(397.67,286.6) rotate(-89.95)" text-anchor="end" fill="#e8b52e" font-style="italic" textLength="26" lengthAdjust="spacingAndGlyphs" stroke="#e8b52e" stroke-width="0.22">STAG2</text>
<text transform="translate(415.28,286.6) rotate(-89.95)" text-anchor="end" fill="#e8b52e" font-style="italic" textLength="17.7" lengthAdjust="spacingAndGlyphs" stroke="#e8b52e" stroke-width="0.22">TP53</text>
<text transform="translate(433.61,286.6) rotate(-89.95)" text-anchor="end" fill="#e8b52e" font-style="italic" textLength="24.5" lengthAdjust="spacingAndGlyphs" stroke="#e8b52e" stroke-width="0.22">CSF3R</text>
<text transform="translate(451.77,286.6) rotate(-89.95)" text-anchor="end" fill="#1a1a1a" textLength="11.3" lengthAdjust="spacingAndGlyphs" stroke="#1a1a1a" stroke-width="0.22">NK</text>
<text transform="translate(469.89,286.6) rotate(-89.95)" text-anchor="end" fill="#1a1a1a" textLength="9" lengthAdjust="spacingAndGlyphs" stroke="#1a1a1a" stroke-width="0.22">+8</text>
<text transform="translate(487.73,286.6) rotate(-89.95)" text-anchor="end" fill="#1a1a1a" textLength="33.6" lengthAdjust="spacingAndGlyphs" stroke="#1a1a1a" stroke-width="0.22">-7/del(7q)</text>
<text transform="translate(505.38,286.6) rotate(-89.95)" text-anchor="end" fill="#1a1a1a" textLength="10.6" lengthAdjust="spacingAndGlyphs" stroke="#1a1a1a" stroke-width="0.22">CK</text>
<text transform="translate(145.17,390) rotate(-89.95)" text-anchor="start" fill="#74b04f" font-style="italic" textLength="24.2" lengthAdjust="spacingAndGlyphs" stroke="#74b04f" stroke-width="0.22">ASXL1</text>
<text transform="translate(160.27,390) rotate(-89.95)" text-anchor="start" fill="#74b04f" font-style="italic" textLength="18.4" lengthAdjust="spacingAndGlyphs" stroke="#74b04f" stroke-width="0.22">TET2</text>
<text transform="translate(176.22,390) rotate(-89.95)" text-anchor="start" fill="#74b04f" font-style="italic" textLength="19.6" lengthAdjust="spacingAndGlyphs" stroke="#74b04f" stroke-width="0.22">EZH2</text>
<text transform="translate(192.32,390) rotate(-89.95)" text-anchor="start" fill="#74b04f" font-style="italic" textLength="34.3" lengthAdjust="spacingAndGlyphs" stroke="#74b04f" stroke-width="0.22">DNMT3A</text>
<text transform="translate(208.28,390) rotate(-89.95)" text-anchor="start" fill="#4d5163" textLength="23.2" lengthAdjust="spacingAndGlyphs" stroke="#4d5163" stroke-width="0.22">SRSF2</text>
<text transform="translate(222.76,390) rotate(-89.95)" text-anchor="start" fill="#4d5163" textLength="23.2" lengthAdjust="spacingAndGlyphs" stroke="#4d5163" stroke-width="0.22">SF3B1</text>
<text transform="translate(238.83,390) rotate(-89.95)" text-anchor="start" fill="#4d5163" font-style="italic" textLength="24.5" lengthAdjust="spacingAndGlyphs" stroke="#4d5163" stroke-width="0.22">U2AF1</text>
<text transform="translate(254.74,390) rotate(-89.95)" text-anchor="start" fill="#4d5163" font-style="italic" textLength="23.7" lengthAdjust="spacingAndGlyphs" stroke="#4d5163" stroke-width="0.22">ZRSR2</text>
<text transform="translate(271.19,390) rotate(-89.95)" text-anchor="start" fill="#38548f" font-style="italic" textLength="19.6" lengthAdjust="spacingAndGlyphs" stroke="#38548f" stroke-width="0.22">JAK2</text>
<text transform="translate(286.6,390) rotate(-89.95)" text-anchor="start" fill="#38548f" font-style="italic" textLength="21.4" lengthAdjust="spacingAndGlyphs" stroke="#38548f" stroke-width="0.22">NRAS</text>
<text transform="translate(302.53,390) rotate(-89.95)" text-anchor="start" fill="#38548f" font-style="italic" textLength="14.6" lengthAdjust="spacingAndGlyphs" stroke="#38548f" stroke-width="0.22">CBL</text>
<text transform="translate(318.02,390) rotate(-89.95)" text-anchor="start" fill="#38548f" font-style="italic" textLength="20.2" lengthAdjust="spacingAndGlyphs" stroke="#38548f" stroke-width="0.22">KRAS</text>
<text transform="translate(334.05,390) rotate(-89.95)" text-anchor="start" fill="#38548f" font-style="italic" textLength="29.3" lengthAdjust="spacingAndGlyphs" stroke="#38548f" stroke-width="0.22">PTPN11</text>
<text transform="translate(349.63,390) rotate(-89.95)" text-anchor="start" fill="#ca2587" font-style="italic" textLength="26.3" lengthAdjust="spacingAndGlyphs" stroke="#ca2587" stroke-width="0.22">RUNX1</text>
<text transform="translate(365.39,390) rotate(-89.95)" text-anchor="start" fill="#ca2587" font-style="italic" textLength="26.7" lengthAdjust="spacingAndGlyphs" stroke="#ca2587" stroke-width="0.22">GATA2</text>
<text transform="translate(381.26,390) rotate(-89.95)" text-anchor="start" fill="#ca2587" font-style="italic" textLength="20.7" lengthAdjust="spacingAndGlyphs" stroke="#ca2587" stroke-width="0.22">CUX1</text>
<text transform="translate(397.17,390) rotate(-89.95)" text-anchor="start" fill="#e8b52e" textLength="28.2" lengthAdjust="spacingAndGlyphs" stroke="#e8b52e" stroke-width="0.22">SETBP1</text>
<text transform="translate(412.62,390) rotate(-89.95)" text-anchor="start" fill="#e8b52e" textLength="26" lengthAdjust="spacingAndGlyphs" stroke="#e8b52e" stroke-width="0.22">STAG2</text>
<text transform="translate(428.38,390) rotate(-89.95)" text-anchor="start" fill="#e8b52e" textLength="17.7" lengthAdjust="spacingAndGlyphs" stroke="#e8b52e" stroke-width="0.22">TP53</text>
<text transform="translate(444.02,390) rotate(-89.95)" text-anchor="start" fill="#e8b52e" textLength="24.5" lengthAdjust="spacingAndGlyphs" stroke="#e8b52e" stroke-width="0.22">CSF3R</text>
<text transform="translate(459.82,390) rotate(-89.95)" text-anchor="start" fill="#1a1a1a" textLength="11.4" lengthAdjust="spacingAndGlyphs" stroke="#1a1a1a" stroke-width="0.22">NK</text>
<text transform="translate(475.65,390) rotate(-89.95)" text-anchor="start" fill="#1a1a1a" textLength="9" lengthAdjust="spacingAndGlyphs" stroke="#1a1a1a" stroke-width="0.22">+8</text>
<text transform="translate(490.49,390) rotate(-89.95)" text-anchor="start" fill="#1a1a1a" textLength="36.2" lengthAdjust="spacingAndGlyphs" stroke="#1a1a1a" stroke-width="0.22">-7/del(7q)</text>
<text transform="translate(506.88,390) rotate(-89.95)" text-anchor="start" fill="#1a1a1a" textLength="10.6" lengthAdjust="spacingAndGlyphs" stroke="#1a1a1a" stroke-width="0.22">CK</text>
<text x="127.9" y="404.95" text-anchor="end" fill="#222" textLength="21.2" lengthAdjust="spacingAndGlyphs" font-size="8.4" stroke="#222" stroke-width="0.22" transform="rotate(0.05 127.9 404.95)">aCML</text>
<text x="127.9" y="416.89" text-anchor="end" fill="#222" textLength="24" lengthAdjust="spacingAndGlyphs" font-size="8.4" stroke="#222" stroke-width="0.22" transform="rotate(0.05 127.9 416.89)">CMML</text>
<text x="127.9" y="428.83" text-anchor="end" fill="#222" textLength="55.9" lengthAdjust="spacingAndGlyphs" font-size="8.4" stroke="#222" stroke-width="0.22" transform="rotate(0.05 127.9 428.83)">MDSMPN-RS-T</text>
<text x="127.9" y="440.77" text-anchor="end" fill="#222" textLength="44.6" lengthAdjust="spacingAndGlyphs" font-size="8.4" stroke="#222" stroke-width="0.22" transform="rotate(0.05 127.9 440.77)">MDSMPN-U</text>
<text x="127.9" y="452.71" text-anchor="end" fill="#222" textLength="27.6" lengthAdjust="spacingAndGlyphs" font-size="8.4" stroke="#222" stroke-width="0.22" transform="rotate(0.05 127.9 452.71)">Anemia</text>
<text x="127.9" y="464.65" text-anchor="end" fill="#222" textLength="69.3" lengthAdjust="spacingAndGlyphs" font-size="8.4" stroke="#222" stroke-width="0.22" transform="rotate(0.05 127.9 464.65)">Thrombocytopenia</text>
<text x="127.9" y="476.59" text-anchor="end" fill="#222" textLength="57.8" lengthAdjust="spacingAndGlyphs" font-size="8.4" stroke="#222" stroke-width="0.22" transform="rotate(0.05 127.9 476.59)">Thrombocytosis</text>
<text x="127.9" y="488.53" text-anchor="end" fill="#222" textLength="46.2" lengthAdjust="spacingAndGlyphs" font-size="8.4" stroke="#222" stroke-width="0.22" transform="rotate(0.05 127.9 488.53)">Leukocytosis</text>
<text x="127.9" y="500.47" text-anchor="end" fill="#222" textLength="46" lengthAdjust="spacingAndGlyphs" font-size="8.4" stroke="#222" stroke-width="0.22" transform="rotate(0.05 127.9 500.47)">Neutropenia</text>
<text x="127.9" y="512.41" text-anchor="end" fill="#222" textLength="46" lengthAdjust="spacingAndGlyphs" font-size="8.4" stroke="#222" stroke-width="0.22" transform="rotate(0.05 127.9 512.41)">Monocytosis</text>
<text x="127.9" y="524.35" text-anchor="end" fill="#222" textLength="62.6" lengthAdjust="spacingAndGlyphs" font-size="8.4" stroke="#222" stroke-width="0.22" transform="rotate(0.05 127.9 524.35)">Circulating blasts</text>
<text x="127.9" y="536.29" text-anchor="end" fill="#222" textLength="58.1" lengthAdjust="spacingAndGlyphs" font-size="8.4" stroke="#222" stroke-width="0.22" transform="rotate(0.05 127.9 536.29)">BM blasts &gt;10%</text>
<text x="127.9" y="548.23" text-anchor="end" fill="#222" textLength="62.1" lengthAdjust="spacingAndGlyphs" font-size="8.4" stroke="#222" stroke-width="0.22" transform="rotate(0.05 127.9 548.23)">Ring sideroblasts</text>
<text x="127.9" y="560.17" text-anchor="end" fill="#222" textLength="65.2" lengthAdjust="spacingAndGlyphs" font-size="8.4" stroke="#222" stroke-width="0.22" transform="rotate(0.05 127.9 560.17)">Dyserythropoiesis</text>
<text x="127.9" y="572.11" text-anchor="end" fill="#222" textLength="66.5" lengthAdjust="spacingAndGlyphs" font-size="8.4" stroke="#222" stroke-width="0.22" transform="rotate(0.05 127.9 572.11)">Dysgranulopoiesis</text>
<text x="127.9" y="584.05" text-anchor="end" fill="#222" textLength="79.6" lengthAdjust="spacingAndGlyphs" font-size="8.4" stroke="#222" stroke-width="0.22" transform="rotate(0.05 127.9 584.05)">Dysmegakaryopoiesis</text>
</g>

<g font-size="9.4" text-anchor="end">
<text x="491.7" y="42.7" fill="#74b04f" textLength="78.8" lengthAdjust="spacingAndGlyphs" stroke="#74b04f" stroke-width="0.22" transform="rotate(0.05 491.7 42.7)">Epigenetic regulators</text>
<text x="491.7" y="54.5" fill="#4d5163" textLength="56.4" lengthAdjust="spacingAndGlyphs" stroke="#4d5163" stroke-width="0.22" transform="rotate(0.05 491.7 54.5)">Splicing factors</text>
<text x="491.7" y="66.4" fill="#38548f" textLength="70.5" lengthAdjust="spacingAndGlyphs" stroke="#38548f" stroke-width="0.22" transform="rotate(0.05 491.7 66.4)">Signaling pathways</text>
<text x="491.7" y="78.3" fill="#ca2587" textLength="75" lengthAdjust="spacingAndGlyphs" stroke="#ca2587" stroke-width="0.22" transform="rotate(0.05 491.7 78.3)">Transcription factors</text>
<text x="491.7" y="90.2" fill="#e8b52e" textLength="25" lengthAdjust="spacingAndGlyphs" stroke="#e8b52e" stroke-width="0.22" transform="rotate(0.05 491.7 90.2)">Others</text>
</g>
<text x="465.8" y="138.8" font-size="9" fill="#1a1a1a" textLength="43.9" lengthAdjust="spacingAndGlyphs" stroke="#1a1a1a" stroke-width="0.22" transform="rotate(0.05 465.8 138.8)">Co-mutated</text>
<rect x="484.2" y="146" width="7.6" height="5.38" fill="#4b8436"/>
<rect x="484.2" y="151.33" width="7.6" height="5.38" fill="#5c9e3e"/>
<rect x="484.2" y="156.65" width="7.6" height="5.38" fill="#a4c98f"/>
<rect x="484.2" y="161.98" width="7.6" height="5.38" fill="#c6dfb9"/>
<rect x="484.2" y="167.31" width="7.6" height="5.38" fill="#deedd6"/>
<rect x="484.2" y="172.64" width="7.6" height="5.38" fill="#efefef"/>
<rect x="484.2" y="177.96" width="7.6" height="5.38" fill="#f3dadb"/>
<rect x="484.2" y="183.29" width="7.6" height="5.38" fill="#ecc3c5"/>
<rect x="484.2" y="188.62" width="7.6" height="5.38" fill="#df959a"/>
<rect x="484.2" y="193.95" width="7.6" height="5.38" fill="#d05358"/>
<rect x="484.2" y="199.27" width="7.6" height="5.38" fill="#c8202a"/>
<path d="M495.4 145.6V204.8M495.4 148.2H498.3M495.4 174.7H498.3M495.4 201.2H498.3" stroke="#1a1a1a" stroke-width="1.1" fill="none"/>
<g font-size="8.4" fill="#1a1a1a" stroke="#1a1a1a" stroke-width="0.22">
<text x="501.3" y="150.8" transform="rotate(0.05 501.3 150.8)">76</text>
<text x="501.5" y="177.1" transform="rotate(0.05 501.5 177.1)">1</text>
<text x="501.3" y="203.6" transform="rotate(0.05 501.3 203.6)">0</text>
</g>
<text transform="translate(478.6,192.1) rotate(-89.95)" font-size="10.2" fill="#1a1a1a" textLength="34.8" lengthAdjust="spacingAndGlyphs" stroke="#1a1a1a" stroke-width="0.22">Odds ratio</text>
<text x="479.6" y="216.3" font-size="8.2" fill="#1a1a1a" textLength="31" lengthAdjust="spacingAndGlyphs" stroke="#1a1a1a" stroke-width="0.22" transform="rotate(0.05 479.6 216.3)">Mutually</text>
<text x="479.1" y="226.3" font-size="8.2" fill="#1a1a1a" textLength="30.3" lengthAdjust="spacingAndGlyphs" stroke="#1a1a1a" stroke-width="0.22" transform="rotate(0.05 479.1 226.3)">excusive</text>
<rect x="413.3" y="178.9" width="54.2" height="25.9" fill="none" stroke="#2a2a2a" stroke-width="1"/>
<text x="418.5" y="188.9" font-size="8.6" fill="#1a1a1a" textLength="43" lengthAdjust="spacingAndGlyphs" stroke="#1a1a1a" stroke-width="0.22" transform="rotate(0.05 418.5 188.9)">** q &lt; 0.001</text>
<text x="422.5" y="200.6" font-size="8.6" fill="#1a1a1a" textLength="34.5" lengthAdjust="spacingAndGlyphs" stroke="#1a1a1a" stroke-width="0.22" transform="rotate(0.05 422.5 200.6)">* q &lt; 0.01</text>


<rect x="34.2" y="353" width="7" height="5.37" fill="#4b8436"/>
<rect x="34.2" y="358.32" width="7" height="5.37" fill="#5c9e3e"/>
<rect x="34.2" y="363.64" width="7" height="5.37" fill="#a4c98f"/>
<rect x="34.2" y="368.95" width="7" height="5.37" fill="#c6dfb9"/>
<rect x="34.2" y="374.27" width="7" height="5.37" fill="#deedd6"/>
<rect x="34.2" y="379.59" width="7" height="5.37" fill="#efefef"/>
<rect x="34.2" y="384.91" width="7" height="5.37" fill="#f3dadb"/>
<rect x="34.2" y="390.23" width="7" height="5.37" fill="#ecc3c5"/>
<rect x="34.2" y="395.55" width="7" height="5.37" fill="#df959a"/>
<rect x="34.2" y="400.86" width="7" height="5.37" fill="#d05358"/>
<rect x="34.2" y="406.18" width="7" height="5.37" fill="#c8202a"/>
<path d="M45.3 352.2V411.6M45.3 355.6H48.1M45.3 381.7H48.1M45.3 408.0H48.1" stroke="#1a1a1a" stroke-width="1.1" fill="none"/>
<g font-size="8.2" fill="#1a1a1a" stroke="#1a1a1a" stroke-width="0.22">
<text x="51.4" y="357.5" transform="rotate(0.05 51.4 357.5)">54</text>
<text x="51.8" y="384.1" transform="rotate(0.05 51.8 384.1)">1</text>
<text x="51.4" y="410.4" transform="rotate(0.05 51.4 410.4)">0</text>
</g>
<text transform="translate(28.6,399.3) rotate(-89.95)" font-size="10.4" fill="#1a1a1a" textLength="35.1" lengthAdjust="spacingAndGlyphs" stroke="#1a1a1a" stroke-width="0.22">Odds ratio</text>
<rect x="63.5" y="359.6" width="53.9" height="25.9" fill="none" stroke="#2a2a2a" stroke-width="1"/>
<text x="69" y="369.5" font-size="8.6" fill="#1a1a1a" textLength="42.7" lengthAdjust="spacingAndGlyphs" stroke="#1a1a1a" stroke-width="0.22" transform="rotate(0.05 69 369.5)">** q &lt; 0.001</text>
<text x="72.8" y="380.8" font-size="8.6" fill="#1a1a1a" textLength="34.6" lengthAdjust="spacingAndGlyphs" stroke="#1a1a1a" stroke-width="0.22" transform="rotate(0.05 72.8 380.8)">* q &lt; 0.01</text>

<text x="6.8" y="17.0" font-size="12.6" font-weight="bold" fill="#111" stroke="#111" stroke-width="0.22" transform="rotate(0.05 6.8 17.0)">A</text>
<text x="7.4" y="347.6" font-size="12" font-weight="bold" fill="#111" textLength="7.7" lengthAdjust="spacingAndGlyphs" stroke="#111" stroke-width="0.22" transform="rotate(0.05 7.4 347.6)">B</text>
</g>
<rect x="0.5" y="0.5" width="519" height="594" fill="none" stroke="#000" stroke-width="1.2"/>
</svg>
</body></html>
